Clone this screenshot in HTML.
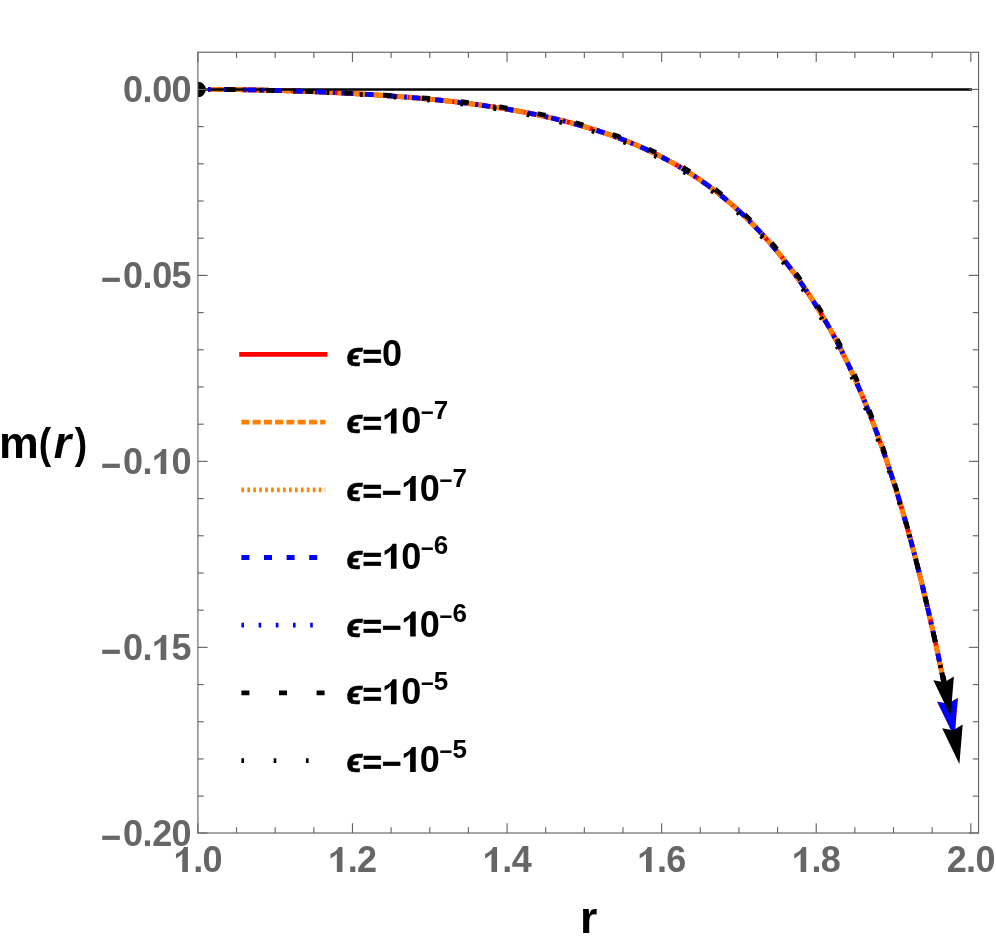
<!DOCTYPE html>
<html><head><meta charset="utf-8"><title>plot</title>
<style>
html,body{margin:0;padding:0;background:#fff;}
body{width:996px;height:943px;overflow:hidden;}
svg{display:block;will-change:transform;}
text{font-family:"Liberation Sans",sans-serif;font-weight:bold;}
.tk{font-size:34.5px;fill:#666666;}
.lg{font-size:35px;fill:#000;}
.sup{font-size:24.5px;}
.ax{font-size:44px;fill:#000;}
</style></head><body>
<svg width="996" height="943" viewBox="0 0 996 943">
<rect width="996" height="943" fill="#fff"/>
<defs><clipPath id="cp"><rect x="197.9" y="52.25" width="780.65" height="780.75"/></clipPath></defs>
<g clip-path="url(#cp)">
<g fill="none" stroke-width="4.8">
<path d="M208.00,89.40 L209.98,89.41 L211.96,89.42 L213.94,89.43 L215.92,89.44 L217.90,89.45 L219.88,89.47 L221.86,89.48 L223.84,89.50 L225.82,89.52 L227.80,89.54 L229.78,89.56 L231.76,89.58 L233.74,89.61 L235.72,89.64 L237.70,89.66 L239.68,89.69 L241.66,89.73 L243.64,89.76 L245.62,89.79 L247.60,89.83 L249.58,89.86 L251.56,89.90 L253.54,89.94 L255.52,89.98 L257.50,90.02 L259.48,90.06 L261.46,90.11 L263.44,90.15 L265.42,90.20 L267.40,90.25 L269.38,90.30 L271.36,90.35 L273.34,90.40 L275.32,90.46 L277.30,90.51 L279.28,90.57 L281.26,90.62 L283.24,90.68 L285.22,90.74 L287.20,90.80 L289.18,90.86 L291.16,90.93 L293.14,90.99 L295.12,91.06 L297.10,91.13 L299.08,91.19 L301.06,91.26 L303.04,91.34 L305.02,91.41 L307.00,91.48 L308.98,91.56 L310.96,91.63 L312.94,91.71 L314.92,91.79 L316.90,91.87 L318.88,91.95 L320.86,92.03 L322.84,92.12 L324.82,92.20 L326.80,92.29 L328.78,92.38 L330.76,92.47 L332.74,92.56 L334.72,92.65 L336.70,92.75 L338.68,92.84 L340.66,92.94 L342.64,93.04 L344.62,93.14 L346.60,93.24 L348.58,93.34 L350.56,93.45 L352.54,93.55 L354.52,93.66 L356.49,93.77 L358.47,93.88 L360.45,93.99 L362.43,94.11 L364.41,94.22 L366.39,94.34 L368.37,94.46 L370.35,94.58 L372.33,94.70 L374.31,94.83 L376.29,94.95 L378.27,95.08 L380.25,95.21 L382.23,95.34 L384.21,95.48 L386.19,95.61 L388.17,95.75 L390.15,95.89 L392.13,96.04 L394.11,96.18 L396.09,96.33 L398.07,96.47 L400.05,96.62 L402.03,96.78 L404.01,96.93 L405.99,97.09 L407.97,97.25 L409.95,97.41 L411.93,97.58 L413.91,97.74 L415.89,97.91 L417.87,98.09 L419.85,98.26 L421.83,98.44 L423.81,98.62 L425.79,98.80 L427.77,98.98 L429.75,99.17 L431.73,99.36 L433.71,99.56 L435.69,99.75 L437.67,99.95 L439.65,100.15 L441.63,100.36 L443.61,100.57 L445.59,100.78 L447.57,100.99 L449.55,101.21 L451.53,101.43 L453.51,101.65 L455.49,101.88 L457.47,102.11 L459.45,102.35 L461.43,102.58 L463.41,102.82 L465.39,103.07 L467.37,103.32 L469.35,103.57 L471.33,103.82 L473.31,104.08 L475.29,104.35 L477.27,104.61 L479.25,104.89 L481.23,105.16 L483.21,105.44 L485.19,105.72 L487.17,106.01 L489.15,106.30 L491.13,106.60 L493.11,106.90 L495.09,107.20 L497.07,107.51 L499.05,107.83 L501.03,108.14 L503.01,108.47 L504.99,108.79 L506.97,109.13 L508.95,109.46 L510.93,109.81 L512.91,110.15 L514.89,110.51 L516.87,110.86 L518.85,111.23 L520.83,111.59 L522.81,111.97 L524.79,112.34 L526.77,112.73 L528.75,113.12 L530.73,113.51 L532.71,113.91 L534.69,114.32 L536.67,114.73 L538.65,115.15 L540.63,115.57 L542.61,116.00 L544.59,116.44 L546.57,116.88 L548.55,117.33 L550.53,117.78 L552.51,118.24 L554.49,118.71 L556.47,119.19 L558.45,119.67 L560.43,120.15 L562.41,120.65 L564.39,121.15 L566.37,121.66 L568.35,122.17 L570.33,122.69 L572.31,123.22 L574.29,123.76 L576.27,124.31 L578.25,124.86 L580.23,125.42 L582.21,125.98 L584.19,126.56 L586.17,127.14 L588.15,127.74 L590.13,128.34 L592.11,128.95 L594.09,129.56 L596.07,130.19 L598.05,130.82 L600.03,131.47 L602.01,132.12 L603.99,132.78 L605.97,133.46 L607.95,134.14 L609.93,134.83 L611.91,135.53 L613.89,136.24 L615.87,136.96 L617.85,137.70 L619.83,138.44 L621.81,139.19 L623.79,139.96 L625.77,140.73 L627.75,141.52 L629.73,142.32 L631.71,143.13 L633.69,143.95 L635.67,144.79 L637.65,145.63 L639.63,146.49 L641.61,147.37 L643.59,148.25 L645.57,149.15 L647.55,150.06 L649.53,150.98 L651.51,151.92 L653.48,152.88 L655.46,153.84 L657.44,154.82 L659.42,155.82 L661.40,156.83 L663.38,157.86 L665.36,158.90 L667.34,159.95 L669.32,161.03 L671.30,162.12 L673.28,163.22 L675.26,164.34 L677.24,165.48 L679.22,166.64 L681.20,167.81 L683.18,169.00 L685.16,170.21 L687.14,171.43 L689.12,172.68 L691.10,173.94 L693.08,175.22 L695.06,176.53 L697.04,177.85 L699.02,179.19 L701.00,180.55 L702.98,181.93 L704.96,183.33 L706.94,184.76 L708.92,186.20 L710.90,187.67 L712.88,189.16 L714.86,190.67 L716.84,192.20 L718.82,193.75 L720.80,195.33 L722.78,196.93 L724.76,198.56 L726.74,200.21 L728.72,201.88 L730.70,203.58 L732.68,205.31 L734.66,207.06 L736.64,208.83 L738.62,210.63 L740.60,212.46 L742.58,214.32 L744.56,216.20 L746.54,218.11 L748.52,220.04 L750.50,222.01 L752.48,224.00 L754.46,226.03 L756.44,228.08 L758.42,230.16 L760.40,232.27 L762.38,234.41 L764.36,236.59 L766.34,238.79 L768.32,241.03 L770.30,243.30 L772.28,245.60 L774.26,247.93 L776.24,250.29 L778.22,252.69 L780.20,255.13 L782.18,257.59 L784.16,260.10 L786.14,262.63 L788.12,265.21 L790.10,267.82 L792.08,270.46 L794.06,273.14 L796.04,275.86 L798.02,278.62 L800.00,281.42 L800.30,281.84 L800.59,282.26 L800.89,282.69 L801.19,283.11 L801.48,283.54 L801.78,283.97 L802.08,284.39 L802.38,284.82 L802.67,285.25 L802.97,285.68 L803.27,286.11 L803.56,286.55 L803.86,286.98 L804.16,287.41 L804.45,287.85 L804.75,288.28 L805.05,288.72 L805.35,289.16 L805.64,289.60 L805.94,290.04 L806.24,290.48 L806.53,290.92 L806.83,291.36 L807.13,291.80 L807.42,292.25 L807.72,292.69 L808.02,293.14 L808.32,293.58 L808.61,294.03 L808.91,294.48 L809.21,294.93 L809.50,295.38 L809.80,295.83 L810.10,296.28 L810.39,296.74 L810.69,297.19 L810.99,297.65 L811.29,298.10 L811.58,298.56 L811.88,299.02 L812.18,299.48 L812.47,299.93 L812.77,300.40 L813.07,300.86 L813.36,301.32 L813.66,301.78 L813.96,302.25 L814.26,302.71 L814.55,303.18 L814.85,303.65 L815.15,304.12 L815.44,304.59 L815.74,305.06 L816.04,305.53 L816.33,306.00 L816.63,306.48 L816.93,306.95 L817.23,307.43 L817.52,307.90 L817.82,308.38 L818.12,308.86 L818.41,309.34 L818.71,309.82 L819.01,310.31 L819.30,310.79 L819.60,311.27 L819.90,311.76 L820.20,312.25 L820.49,312.73 L820.79,313.22 L821.09,313.71 L821.38,314.21 L821.68,314.70 L821.98,315.19 L822.27,315.69 L822.57,316.18 L822.87,316.68 L823.17,317.18 L823.46,317.68 L823.76,318.18 L824.06,318.68 L824.35,319.18 L824.65,319.69 L824.95,320.19 L825.24,320.70 L825.54,321.21 L825.84,321.72 L826.14,322.23 L826.43,322.74 L826.73,323.25 L827.03,323.77 L827.32,324.28 L827.62,324.80 L827.92,325.32 L828.21,325.84 L828.51,326.36 L828.81,326.88 L829.11,327.40 L829.40,327.93 L829.70,328.46 L830.00,328.98 L830.29,329.51 L830.59,330.04 L830.89,330.58 L831.18,331.11 L831.48,331.64 L831.78,332.18 L832.08,332.72 L832.37,333.26 L832.67,333.80 L832.97,334.34 L833.26,334.88 L833.56,335.43 L833.86,335.97 L834.15,336.52 L834.45,337.07 L834.75,337.62 L835.05,338.17 L835.34,338.73 L835.64,339.28 L835.94,339.84 L836.23,340.40 L836.53,340.96 L836.83,341.52 L837.12,342.08 L837.42,342.65 L837.72,343.21 L838.02,343.78 L838.31,344.35 L838.61,344.92 L838.91,345.49 L839.20,346.07 L839.50,346.64 L839.80,347.22 L840.09,347.80 L840.39,348.38 L840.69,348.96 L840.99,349.55 L841.28,350.13 L841.58,350.72 L841.88,351.31 L842.17,351.90 L842.47,352.49 L842.77,353.08 L843.06,353.68 L843.36,354.27 L843.66,354.87 L843.96,355.47 L844.25,356.07 L844.55,356.68 L844.85,357.28 L845.14,357.89 L845.44,358.50 L845.74,359.11 L846.03,359.72 L846.33,360.33 L846.63,360.95 L846.93,361.56 L847.22,362.18 L847.52,362.80 L847.82,363.43 L848.11,364.05 L848.41,364.67 L848.71,365.30 L849.00,365.93 L849.30,366.56 L849.60,367.19 L849.89,367.83 L850.19,368.46 L850.49,369.10 L850.79,369.74 L851.08,370.38 L851.38,371.03 L851.68,371.67 L851.97,372.32 L852.27,372.97 L852.57,373.62 L852.86,374.27 L853.16,374.92 L853.46,375.58 L853.76,376.23 L854.05,376.89 L854.35,377.55 L854.65,378.22 L854.94,378.88 L855.24,379.55 L855.54,380.21 L855.83,380.88 L856.13,381.55 L856.43,382.23 L856.73,382.90 L857.02,383.58 L857.32,384.26 L857.62,384.94 L857.91,385.62 L858.21,386.31 L858.51,386.99 L858.80,387.68 L859.10,388.37 L859.40,389.06 L859.70,389.75 L859.99,390.45 L860.29,391.14 L860.59,391.84 L860.88,392.54 L861.18,393.25 L861.48,393.95 L861.77,394.65 L862.07,395.36 L862.37,396.07 L862.67,396.78 L862.96,397.50 L863.26,398.21 L863.56,398.93 L863.85,399.65 L864.15,400.37 L864.45,401.09 L864.74,401.81 L865.04,402.54 L865.34,403.27 L865.64,404.00 L865.93,404.73 L866.23,405.46 L866.53,406.20 L866.82,406.94 L867.12,407.68 L867.42,408.42 L867.71,409.16 L868.01,409.90 L868.31,410.65 L868.61,411.40 L868.90,412.15 L869.20,412.90 L869.50,413.66 L869.79,414.41 L870.09,415.17 L870.39,415.93 L870.68,416.69 L870.98,417.46 L871.28,418.22 L871.58,418.99 L871.87,419.76 L872.17,420.53 L872.47,421.31 L872.76,422.08 L873.06,422.86 L873.36,423.64 L873.65,424.42 L873.95,425.21 L874.25,425.99 L874.55,426.78 L874.84,427.57 L875.14,428.36 L875.44,429.16 L875.73,429.95 L876.03,430.75 L876.33,431.55 L876.62,432.35 L876.92,433.16 L877.22,433.96 L877.52,434.77 L877.81,435.58 L878.11,436.39 L878.41,437.21 L878.70,438.03 L879.00,438.84 L879.30,439.67 L879.59,440.49 L879.89,441.31 L880.19,442.14 L880.49,442.97 L880.78,443.80 L881.08,444.64 L881.38,445.47 L881.67,446.31 L881.97,447.15 L882.27,447.99 L882.56,448.84 L882.86,449.69 L883.16,450.53 L883.46,451.39 L883.75,452.24 L884.05,453.10 L884.35,453.95 L884.64,454.81 L884.94,455.68 L885.24,456.54 L885.53,457.41 L885.83,458.28 L886.13,459.15 L886.43,460.03 L886.72,460.90 L887.02,461.78 L887.32,462.66 L887.61,463.55 L887.91,464.43 L888.21,465.32 L888.50,466.21 L888.80,467.11 L889.10,468.00 L889.40,468.90 L889.69,469.80 L889.99,470.70 L890.29,471.61 L890.58,472.52 L890.88,473.43 L891.18,474.34 L891.47,475.25 L891.77,476.17 L892.07,477.09 L892.37,478.02 L892.66,478.94 L892.96,479.87 L893.26,480.80 L893.55,481.73 L893.85,482.67 L894.15,483.61 L894.44,484.55 L894.74,485.49 L895.04,486.43 L895.34,487.38 L895.63,488.33 L895.93,489.29 L896.23,490.24 L896.52,491.20 L896.82,492.16 L897.12,493.13 L897.41,494.10 L897.71,495.07 L898.01,496.04 L898.31,497.01 L898.60,497.99 L898.90,498.97 L899.20,499.95 L899.49,500.94 L899.79,501.93 L900.09,502.92 L900.38,503.91 L900.68,504.91 L900.98,505.91 L901.27,506.91 L901.57,507.92 L901.87,508.93 L902.17,509.94 L902.46,510.95 L902.76,511.97 L903.06,512.99 L903.35,514.01 L903.65,515.03 L903.95,516.06 L904.24,517.09 L904.54,518.13 L904.84,519.16 L905.14,520.20 L905.43,521.25 L905.73,522.29 L906.03,523.34 L906.32,524.39 L906.62,525.45 L906.92,526.50 L907.21,527.56 L907.51,528.63 L907.81,529.69 L908.11,530.76 L908.40,531.83 L908.70,532.91 L909.00,533.99 L909.29,535.07 L909.59,536.15 L909.89,537.24 L910.18,538.33 L910.48,539.42 L910.78,540.52 L911.08,541.62 L911.37,542.72 L911.67,543.83 L911.97,544.94 L912.26,546.05 L912.56,547.16 L912.86,548.28 L913.15,549.40 L913.45,550.53 L913.75,551.65 L914.05,552.78 L914.34,553.92 L914.64,555.05 L914.94,556.19 L915.23,557.34 L915.53,558.48 L915.83,559.63 L916.12,560.78 L916.42,561.94 L916.72,563.10 L917.02,564.26 L917.31,565.42 L917.61,566.59 L917.91,567.76 L918.20,568.94 L918.50,570.11 L918.80,571.29 L919.09,572.48 L919.39,573.67 L919.69,574.86 L919.99,576.05 L920.28,577.25 L920.58,578.45 L920.88,579.65 L921.17,580.86 L921.47,582.07 L921.77,583.28 L922.06,584.49 L922.36,585.71 L922.66,586.94 L922.96,588.16 L923.25,589.39 L923.55,590.62 L923.85,591.86 L924.14,593.10 L924.44,594.34 L924.74,595.59 L925.03,596.83 L925.33,598.09 L925.63,599.34 L925.93,600.60 L926.22,601.86 L926.52,603.13 L926.82,604.39 L927.11,605.67 L927.41,606.94 L927.71,608.22 L928.00,609.50 L928.30,610.78 L928.60,612.07 L928.90,613.36 L929.19,614.66 L929.49,615.96 L929.79,617.26 L930.08,618.56 L930.38,619.87 L930.68,621.18 L930.97,622.49 L931.27,623.81 L931.57,625.13 L931.87,626.46 L932.16,627.78 L932.46,629.11 L932.76,630.45 L933.05,631.79 L933.35,633.13 L933.65,634.47 L933.94,635.82 L934.24,637.17 L934.54,638.52 L934.84,639.88 L935.13,641.24 L935.43,642.60 L935.73,643.97 L936.02,645.34 L936.32,646.71 L936.62,648.09 L936.91,649.47 L937.21,650.85 L937.51,652.24 L937.81,653.63 L938.10,655.02 L938.40,656.42 L938.70,657.82 L938.99,659.22 L939.29,660.63 L939.59,662.04 L939.88,663.45 L940.18,664.86 L940.48,666.28 L940.78,667.71 L941.07,669.13 L941.37,670.56 L941.67,671.99 L941.96,673.43 L942.26,674.87 L942.56,676.31 L942.85,677.76 L943.15,679.20 L943.45,680.66 L943.75,682.11 L944.04,683.57 L944.34,685.03 L944.64,686.50 L944.93,687.96 L945.23,689.43 L945.53,690.91 L945.82,692.39 L946.12,693.87 L946.42,695.35 L946.72,696.84 L947.01,698.33 L947.31,699.82 L947.61,701.32 L947.90,702.82 L948.20,704.32" stroke="#ff0000"/>
<path d="M211.00,89.41 L212.97,89.42 L214.94,89.43 L216.91,89.44 L218.88,89.46 L220.85,89.47 L222.82,89.49 L224.79,89.51 L226.76,89.53 L228.73,89.55 L230.70,89.57 L232.67,89.60 L234.64,89.62 L236.61,89.65 L238.58,89.68 L240.55,89.71 L242.52,89.74 L244.49,89.77 L246.46,89.81 L248.43,89.84 L250.40,89.88 L252.37,89.92 L254.34,89.96 L256.31,90.00 L258.28,90.04 L260.25,90.08 L262.22,90.13 L264.19,90.17 L266.16,90.22 L268.13,90.27 L270.10,90.32 L272.07,90.37 L274.04,90.42 L276.01,90.47 L277.98,90.53 L279.95,90.59 L281.92,90.64 L283.89,90.70 L285.86,90.76 L287.83,90.82 L289.80,90.88 L291.77,90.95 L293.74,91.01 L295.71,91.08 L297.68,91.15 L299.65,91.21 L301.62,91.28 L303.59,91.36 L305.56,91.43 L307.53,91.50 L309.49,91.58 L311.46,91.65 L313.43,91.73 L315.40,91.81 L317.37,91.89 L319.34,91.97 L321.31,92.05 L323.28,92.14 L325.25,92.22 L327.22,92.31 L329.19,92.40 L331.16,92.49 L333.13,92.58 L335.10,92.67 L337.07,92.76 L339.04,92.86 L341.01,92.96 L342.98,93.05 L344.95,93.15 L346.92,93.25 L348.89,93.36 L350.86,93.46 L352.83,93.57 L354.80,93.67 L356.77,93.78 L358.74,93.89 L360.71,94.01 L362.68,94.12 L364.65,94.24 L366.62,94.35 L368.59,94.47 L370.56,94.59 L372.53,94.71 L374.50,94.84 L376.47,94.97 L378.44,95.09 L380.41,95.22 L382.38,95.35 L384.35,95.49 L386.32,95.62 L388.29,95.76 L390.26,95.90 L392.23,96.04 L394.20,96.19 L396.17,96.33 L398.14,96.48 L400.11,96.63 L402.08,96.78 L404.05,96.94 L406.02,97.09 L407.99,97.25 L409.96,97.41 L411.93,97.58 L413.90,97.74 L415.87,97.91 L417.84,98.08 L419.81,98.26 L421.78,98.43 L423.75,98.61 L425.72,98.79 L427.69,98.98 L429.66,99.16 L431.63,99.35 L433.60,99.54 L435.57,99.74 L437.54,99.94 L439.51,100.14 L441.48,100.34 L443.45,100.55 L445.42,100.76 L447.39,100.97 L449.36,101.19 L451.33,101.41 L453.30,101.63 L455.27,101.85 L457.24,102.08 L459.21,102.32 L461.18,102.55 L463.15,102.79 L465.12,103.03 L467.09,103.28 L469.06,103.53 L471.03,103.79 L473.00,104.04 L474.97,104.30 L476.94,104.57 L478.91,104.84 L480.88,105.11 L482.85,105.39 L484.82,105.67 L486.79,105.95 L488.76,106.24 L490.73,106.54 L492.70,106.84 L494.67,107.14 L496.64,107.44 L498.61,107.76 L500.58,108.07 L502.55,108.39 L504.52,108.72 L506.48,109.05 L508.45,109.38 L510.42,109.72 L512.39,110.06 L514.36,110.41 L516.33,110.77 L518.30,111.13 L520.27,111.49 L522.24,111.86 L524.21,112.23 L526.18,112.61 L528.15,113.00 L530.12,113.39 L532.09,113.79 L534.06,114.19 L536.03,114.60 L538.00,115.01 L539.97,115.43 L541.94,115.86 L543.91,116.29 L545.88,116.73 L547.85,117.17 L549.82,117.62 L551.79,118.08 L553.76,118.54 L555.73,119.01 L557.70,119.48 L559.67,119.97 L561.64,120.46 L563.61,120.95 L565.58,121.45 L567.55,121.96 L569.52,122.48 L571.49,123.00 L573.46,123.54 L575.43,124.07 L577.40,124.62 L579.37,125.17 L581.34,125.74 L583.31,126.30 L585.28,126.88 L587.25,127.47 L589.22,128.06 L591.19,128.66 L593.16,129.27 L595.13,129.89 L597.10,130.52 L599.07,131.16 L601.04,131.80 L603.01,132.46 L604.98,133.12 L606.95,133.79 L608.92,134.48 L610.89,135.17 L612.86,135.87 L614.83,136.59 L616.80,137.31 L618.77,138.04 L620.74,138.79 L622.71,139.54 L624.68,140.31 L626.65,141.08 L628.62,141.87 L630.59,142.67 L632.56,143.48 L634.53,144.31 L636.50,145.14 L638.47,145.99 L640.44,146.85 L642.41,147.72 L644.38,148.61 L646.35,149.51 L648.32,150.42 L650.29,151.34 L652.26,152.28 L654.23,153.24 L656.20,154.20 L658.17,155.19 L660.14,156.18 L662.11,157.19 L664.08,158.22 L666.05,159.26 L668.02,160.32 L669.99,161.39 L671.96,162.48 L673.93,163.58 L675.90,164.70 L677.87,165.84 L679.84,167.00 L681.81,168.17 L683.78,169.36 L685.75,170.57 L687.72,171.79 L689.69,173.04 L691.66,174.30 L693.63,175.58 L695.60,176.88 L697.57,178.20 L699.54,179.54 L701.51,180.90 L703.47,182.28 L705.44,183.68 L707.41,185.10 L709.38,186.54 L711.35,188.00 L713.32,189.49 L715.29,191.00 L717.26,192.53 L719.23,194.08 L721.20,195.65 L723.17,197.25 L725.14,198.88 L727.11,200.52 L729.08,202.19 L731.05,203.89 L733.02,205.61 L734.99,207.35 L736.96,209.12 L738.93,210.92 L740.90,212.74 L742.87,214.59 L744.84,216.47 L746.81,218.37 L748.78,220.30 L750.75,222.26 L752.72,224.25 L754.69,226.26 L756.66,228.31 L758.63,230.38 L760.60,232.49 L762.57,234.62 L764.54,236.79 L766.51,238.98 L768.48,241.21 L770.45,243.47 L772.42,245.76 L774.39,248.08 L776.36,250.44 L778.33,252.83 L780.30,255.25 L782.27,257.71 L784.24,260.20 L786.21,262.73 L788.18,265.29 L790.15,267.88 L792.12,270.52 L794.09,273.19 L796.06,275.89 L798.03,278.64 L800.00,281.42 L800.30,281.84 L800.59,282.26 L800.89,282.69 L801.19,283.11 L801.48,283.54 L801.78,283.97 L802.08,284.39 L802.38,284.82 L802.67,285.25 L802.97,285.68 L803.27,286.11 L803.56,286.55 L803.86,286.98 L804.16,287.41 L804.45,287.85 L804.75,288.28 L805.05,288.72 L805.35,289.16 L805.64,289.60 L805.94,290.04 L806.24,290.48 L806.53,290.92 L806.83,291.36 L807.13,291.80 L807.42,292.25 L807.72,292.69 L808.02,293.14 L808.32,293.58 L808.61,294.03 L808.91,294.48 L809.21,294.93 L809.50,295.38 L809.80,295.83 L810.10,296.28 L810.39,296.74 L810.69,297.19 L810.99,297.65 L811.29,298.10 L811.58,298.56 L811.88,299.02 L812.18,299.48 L812.47,299.93 L812.77,300.40 L813.07,300.86 L813.36,301.32 L813.66,301.78 L813.96,302.25 L814.26,302.71 L814.55,303.18 L814.85,303.65 L815.15,304.12 L815.44,304.59 L815.74,305.06 L816.04,305.53 L816.33,306.00 L816.63,306.48 L816.93,306.95 L817.23,307.43 L817.52,307.90 L817.82,308.38 L818.12,308.86 L818.41,309.34 L818.71,309.82 L819.01,310.31 L819.30,310.79 L819.60,311.27 L819.90,311.76 L820.20,312.25 L820.49,312.73 L820.79,313.22 L821.09,313.71 L821.38,314.21 L821.68,314.70 L821.98,315.19 L822.27,315.69 L822.57,316.18 L822.87,316.68 L823.17,317.18 L823.46,317.68 L823.76,318.18 L824.06,318.68 L824.35,319.18 L824.65,319.69 L824.95,320.19 L825.24,320.70 L825.54,321.21 L825.84,321.72 L826.14,322.23 L826.43,322.74 L826.73,323.25 L827.03,323.77 L827.32,324.28 L827.62,324.80 L827.92,325.32 L828.21,325.84 L828.51,326.36 L828.81,326.88 L829.11,327.40 L829.40,327.93 L829.70,328.46 L830.00,328.98 L830.29,329.51 L830.59,330.04 L830.89,330.58 L831.18,331.11 L831.48,331.64 L831.78,332.18 L832.08,332.72 L832.37,333.26 L832.67,333.80 L832.97,334.34 L833.26,334.88 L833.56,335.43 L833.86,335.97 L834.15,336.52 L834.45,337.07 L834.75,337.62 L835.05,338.17 L835.34,338.73 L835.64,339.28 L835.94,339.84 L836.23,340.40 L836.53,340.96 L836.83,341.52 L837.12,342.08 L837.42,342.65 L837.72,343.21 L838.02,343.78 L838.31,344.35 L838.61,344.92 L838.91,345.49 L839.20,346.07 L839.50,346.64 L839.80,347.22 L840.09,347.80 L840.39,348.38 L840.69,348.96 L840.99,349.55 L841.28,350.13 L841.58,350.72 L841.88,351.31 L842.17,351.90 L842.47,352.49 L842.77,353.08 L843.06,353.68 L843.36,354.27 L843.66,354.87 L843.96,355.47 L844.25,356.07 L844.55,356.68 L844.85,357.28 L845.14,357.89 L845.44,358.50 L845.74,359.11 L846.03,359.72 L846.33,360.33 L846.63,360.95 L846.93,361.56 L847.22,362.18 L847.52,362.80 L847.82,363.43 L848.11,364.05 L848.41,364.67 L848.71,365.30 L849.00,365.93 L849.30,366.56 L849.60,367.19 L849.89,367.83 L850.19,368.46 L850.49,369.10 L850.79,369.74 L851.08,370.38 L851.38,371.03 L851.68,371.67 L851.97,372.32 L852.27,372.97 L852.57,373.62 L852.86,374.27 L853.16,374.92 L853.46,375.58 L853.76,376.23 L854.05,376.89 L854.35,377.55 L854.65,378.22 L854.94,378.88 L855.24,379.55 L855.54,380.21 L855.83,380.88 L856.13,381.55 L856.43,382.23 L856.73,382.90 L857.02,383.58 L857.32,384.26 L857.62,384.94 L857.91,385.62 L858.21,386.31 L858.51,386.99 L858.80,387.68 L859.10,388.37 L859.40,389.06 L859.70,389.75 L859.99,390.45 L860.29,391.14 L860.59,391.84 L860.88,392.54 L861.18,393.25 L861.48,393.95 L861.77,394.65 L862.07,395.36 L862.37,396.07 L862.67,396.78 L862.96,397.50 L863.26,398.21 L863.56,398.93 L863.85,399.65 L864.15,400.37 L864.45,401.09 L864.74,401.81 L865.04,402.54 L865.34,403.27 L865.64,404.00 L865.93,404.73 L866.23,405.46 L866.53,406.20 L866.82,406.94 L867.12,407.68 L867.42,408.42 L867.71,409.16 L868.01,409.90 L868.31,410.65 L868.61,411.40 L868.90,412.15 L869.20,412.90 L869.50,413.66 L869.79,414.41 L870.09,415.17 L870.39,415.93 L870.68,416.69 L870.98,417.46 L871.28,418.22 L871.58,418.99 L871.87,419.76 L872.17,420.53 L872.47,421.31 L872.76,422.08 L873.06,422.86 L873.36,423.64 L873.65,424.42 L873.95,425.21 L874.25,425.99 L874.55,426.78 L874.84,427.57 L875.14,428.36 L875.44,429.16 L875.73,429.95 L876.03,430.75 L876.33,431.55 L876.62,432.35 L876.92,433.16 L877.22,433.96 L877.52,434.77 L877.81,435.58 L878.11,436.39 L878.41,437.21 L878.70,438.03 L879.00,438.84 L879.30,439.67 L879.59,440.49 L879.89,441.31 L880.19,442.14 L880.49,442.97 L880.78,443.80 L881.08,444.64 L881.38,445.47 L881.67,446.31 L881.97,447.15 L882.27,447.99 L882.56,448.84 L882.86,449.69 L883.16,450.53 L883.46,451.39 L883.75,452.24 L884.05,453.10 L884.35,453.95 L884.64,454.81 L884.94,455.68 L885.24,456.54 L885.53,457.41 L885.83,458.28 L886.13,459.15 L886.43,460.03 L886.72,460.90 L887.02,461.78 L887.32,462.66 L887.61,463.55 L887.91,464.43 L888.21,465.32 L888.50,466.21 L888.80,467.11 L889.10,468.00 L889.40,468.90 L889.69,469.80 L889.99,470.70 L890.29,471.61 L890.58,472.52 L890.88,473.43 L891.18,474.34 L891.47,475.25 L891.77,476.17 L892.07,477.09 L892.37,478.02 L892.66,478.94 L892.96,479.87 L893.26,480.80 L893.55,481.73 L893.85,482.67 L894.15,483.61 L894.44,484.55 L894.74,485.49 L895.04,486.43 L895.34,487.38 L895.63,488.33 L895.93,489.29 L896.23,490.24 L896.52,491.20 L896.82,492.16 L897.12,493.13 L897.41,494.10 L897.71,495.07 L898.01,496.04 L898.31,497.01 L898.60,497.99 L898.90,498.97 L899.20,499.95 L899.49,500.94 L899.79,501.93 L900.09,502.92 L900.38,503.91 L900.68,504.91 L900.98,505.91 L901.27,506.91 L901.57,507.92 L901.87,508.93 L902.17,509.94 L902.46,510.95 L902.76,511.97 L903.06,512.99 L903.35,514.01 L903.65,515.03 L903.95,516.06 L904.24,517.09 L904.54,518.13 L904.84,519.16 L905.14,520.20 L905.43,521.25 L905.73,522.29 L906.03,523.34 L906.32,524.39 L906.62,525.45 L906.92,526.50 L907.21,527.56 L907.51,528.63 L907.81,529.69 L908.11,530.76 L908.40,531.83 L908.70,532.91 L909.00,533.99 L909.29,535.07 L909.59,536.15 L909.89,537.24 L910.18,538.33 L910.48,539.42 L910.78,540.52 L911.08,541.62 L911.37,542.72 L911.67,543.83 L911.97,544.94 L912.26,546.05 L912.56,547.16 L912.86,548.28 L913.15,549.40 L913.45,550.53 L913.75,551.65 L914.05,552.78 L914.34,553.92 L914.64,555.05 L914.94,556.19 L915.23,557.34 L915.53,558.48 L915.83,559.63 L916.12,560.78 L916.42,561.94 L916.72,563.10 L917.02,564.26 L917.31,565.42 L917.61,566.59 L917.91,567.76 L918.20,568.94 L918.50,570.11 L918.80,571.29 L919.09,572.48 L919.39,573.67 L919.69,574.86 L919.99,576.05 L920.28,577.25 L920.58,578.45 L920.88,579.65 L921.17,580.86 L921.47,582.07 L921.77,583.28 L922.06,584.49 L922.36,585.71 L922.66,586.94 L922.96,588.16 L923.25,589.39 L923.55,590.62 L923.85,591.86 L924.14,593.10 L924.44,594.34 L924.74,595.59 L925.03,596.83 L925.33,598.09 L925.63,599.34 L925.93,600.60 L926.22,601.86 L926.52,603.13 L926.82,604.39 L927.11,605.67 L927.41,606.94 L927.71,608.22 L928.00,609.50 L928.30,610.78 L928.60,612.07 L928.90,613.36 L929.19,614.66 L929.49,615.96 L929.79,617.26 L930.08,618.56 L930.38,619.87 L930.68,621.18 L930.97,622.49 L931.27,623.81 L931.57,625.13 L931.87,626.46 L932.16,627.78 L932.46,629.11 L932.76,630.45 L933.05,631.79 L933.35,633.13 L933.65,634.47 L933.94,635.82 L934.24,637.17 L934.54,638.52 L934.84,639.88 L935.13,641.24 L935.43,642.60 L935.73,643.97 L936.02,645.34 L936.32,646.71 L936.62,648.09 L936.91,649.47 L937.21,650.85 L937.51,652.24 L937.81,653.63 L938.10,655.02 L938.40,656.42 L938.70,657.82 L938.99,659.22 L939.29,660.63 L939.59,662.04 L939.88,663.45 L940.18,664.86 L940.48,666.28 L940.78,667.71 L941.07,669.13 L941.37,670.56 L941.67,671.99 L941.96,673.43 L942.26,674.87 L942.56,676.31 L942.85,677.76 L943.15,679.20 L943.45,680.66 L943.75,682.11 L944.04,683.57 L944.34,685.03 L944.64,686.50 L944.93,687.96 L945.23,689.43 L945.53,690.91 L945.82,692.39 L946.12,693.87 L946.42,695.35 L946.72,696.84 L947.01,698.33 L947.31,699.82 L947.61,701.32 L947.90,702.82 L948.20,704.32" stroke="#ff8000" stroke-dasharray="8.3 3.37"/>
<path d="M208.00,89.40 L209.98,89.41 L211.96,89.42 L213.94,89.43 L215.92,89.44 L217.90,89.45 L219.88,89.47 L221.86,89.48 L223.84,89.50 L225.82,89.52 L227.80,89.54 L229.78,89.56 L231.76,89.58 L233.74,89.61 L235.72,89.64 L237.70,89.66 L239.68,89.69 L241.66,89.73 L243.64,89.76 L245.62,89.79 L247.60,89.83 L249.58,89.86 L251.56,89.90 L253.54,89.94 L255.52,89.98 L257.50,90.02 L259.48,90.06 L261.46,90.11 L263.44,90.15 L265.42,90.20 L267.40,90.25 L269.38,90.30 L271.36,90.35 L273.34,90.40 L275.32,90.46 L277.30,90.51 L279.28,90.57 L281.26,90.62 L283.24,90.68 L285.22,90.74 L287.20,90.80 L289.18,90.86 L291.16,90.93 L293.14,90.99 L295.12,91.06 L297.10,91.13 L299.08,91.19 L301.06,91.26 L303.04,91.34 L305.02,91.41 L307.00,91.48 L308.98,91.56 L310.96,91.63 L312.94,91.71 L314.92,91.79 L316.90,91.87 L318.88,91.95 L320.86,92.03 L322.84,92.12 L324.82,92.20 L326.80,92.29 L328.78,92.38 L330.76,92.47 L332.74,92.56 L334.72,92.65 L336.70,92.75 L338.68,92.84 L340.66,92.94 L342.64,93.04 L344.62,93.14 L346.60,93.24 L348.58,93.34 L350.56,93.45 L352.54,93.55 L354.52,93.66 L356.49,93.77 L358.47,93.88 L360.45,93.99 L362.43,94.11 L364.41,94.22 L366.39,94.34 L368.37,94.46 L370.35,94.58 L372.33,94.70 L374.31,94.83 L376.29,94.95 L378.27,95.08 L380.25,95.21 L382.23,95.34 L384.21,95.48 L386.19,95.61 L388.17,95.75 L390.15,95.89 L392.13,96.04 L394.11,96.18 L396.09,96.33 L398.07,96.47 L400.05,96.62 L402.03,96.78 L404.01,96.93 L405.99,97.09 L407.97,97.25 L409.95,97.41 L411.93,97.58 L413.91,97.74 L415.89,97.91 L417.87,98.09 L419.85,98.26 L421.83,98.44 L423.81,98.62 L425.79,98.80 L427.77,98.98 L429.75,99.17 L431.73,99.36 L433.71,99.56 L435.69,99.75 L437.67,99.95 L439.65,100.15 L441.63,100.36 L443.61,100.57 L445.59,100.78 L447.57,100.99 L449.55,101.21 L451.53,101.43 L453.51,101.65 L455.49,101.88 L457.47,102.11 L459.45,102.35 L461.43,102.58 L463.41,102.82 L465.39,103.07 L467.37,103.32 L469.35,103.57 L471.33,103.82 L473.31,104.08 L475.29,104.35 L477.27,104.61 L479.25,104.89 L481.23,105.16 L483.21,105.44 L485.19,105.72 L487.17,106.01 L489.15,106.30 L491.13,106.60 L493.11,106.90 L495.09,107.20 L497.07,107.51 L499.05,107.83 L501.03,108.14 L503.01,108.47 L504.99,108.79 L506.97,109.13 L508.95,109.46 L510.93,109.81 L512.91,110.15 L514.89,110.51 L516.87,110.86 L518.85,111.23 L520.83,111.59 L522.81,111.97 L524.79,112.34 L526.77,112.73 L528.75,113.12 L530.73,113.51 L532.71,113.91 L534.69,114.32 L536.67,114.73 L538.65,115.15 L540.63,115.57 L542.61,116.00 L544.59,116.44 L546.57,116.88 L548.55,117.33 L550.53,117.78 L552.51,118.24 L554.49,118.71 L556.47,119.19 L558.45,119.67 L560.43,120.15 L562.41,120.65 L564.39,121.15 L566.37,121.66 L568.35,122.17 L570.33,122.69 L572.31,123.22 L574.29,123.76 L576.27,124.31 L578.25,124.86 L580.23,125.42 L582.21,125.98 L584.19,126.56 L586.17,127.14 L588.15,127.74 L590.13,128.34 L592.11,128.95 L594.09,129.56 L596.07,130.19 L598.05,130.82 L600.03,131.47 L602.01,132.12 L603.99,132.78 L605.97,133.46 L607.95,134.14 L609.93,134.83 L611.91,135.53 L613.89,136.24 L615.87,136.96 L617.85,137.70 L619.83,138.44 L621.81,139.19 L623.79,139.96 L625.77,140.73 L627.75,141.52 L629.73,142.32 L631.71,143.13 L633.69,143.95 L635.67,144.79 L637.65,145.63 L639.63,146.49 L641.61,147.37 L643.59,148.25 L645.57,149.15 L647.55,150.06 L649.53,150.98 L651.51,151.92 L653.48,152.88 L655.46,153.84 L657.44,154.82 L659.42,155.82 L661.40,156.83 L663.38,157.86 L665.36,158.90 L667.34,159.95 L669.32,161.03 L671.30,162.12 L673.28,163.22 L675.26,164.34 L677.24,165.48 L679.22,166.64 L681.20,167.81 L683.18,169.00 L685.16,170.21 L687.14,171.43 L689.12,172.68 L691.10,173.94 L693.08,175.22 L695.06,176.53 L697.04,177.85 L699.02,179.19 L701.00,180.55 L702.98,181.93 L704.96,183.33 L706.94,184.76 L708.92,186.20 L710.90,187.67 L712.88,189.16 L714.86,190.67 L716.84,192.20 L718.82,193.75 L720.80,195.33 L722.78,196.93 L724.76,198.56 L726.74,200.21 L728.72,201.88 L730.70,203.58 L732.68,205.31 L734.66,207.06 L736.64,208.83 L738.62,210.63 L740.60,212.46 L742.58,214.32 L744.56,216.20 L746.54,218.11 L748.52,220.04 L750.50,222.01 L752.48,224.00 L754.46,226.03 L756.44,228.08 L758.42,230.16 L760.40,232.27 L762.38,234.41 L764.36,236.59 L766.34,238.79 L768.32,241.03 L770.30,243.30 L772.28,245.60 L774.26,247.93 L776.24,250.29 L778.22,252.69 L780.20,255.13 L782.18,257.59 L784.16,260.10 L786.14,262.63 L788.12,265.21 L790.10,267.82 L792.08,270.46 L794.06,273.14 L796.04,275.86 L798.02,278.62 L800.00,281.42 L800.30,281.84 L800.59,282.26 L800.89,282.69 L801.19,283.11 L801.48,283.54 L801.78,283.97 L802.08,284.39 L802.38,284.82 L802.67,285.25 L802.97,285.68 L803.27,286.11 L803.56,286.55 L803.86,286.98 L804.16,287.41 L804.45,287.85 L804.75,288.28 L805.05,288.72 L805.35,289.16 L805.64,289.60 L805.94,290.04 L806.24,290.48 L806.53,290.92 L806.83,291.36 L807.13,291.80 L807.42,292.25 L807.72,292.69 L808.02,293.14 L808.32,293.58 L808.61,294.03 L808.91,294.48 L809.21,294.93 L809.50,295.38 L809.80,295.83 L810.10,296.28 L810.39,296.74 L810.69,297.19 L810.99,297.65 L811.29,298.10 L811.58,298.56 L811.88,299.02 L812.18,299.48 L812.47,299.93 L812.77,300.40 L813.07,300.86 L813.36,301.32 L813.66,301.78 L813.96,302.25 L814.26,302.71 L814.55,303.18 L814.85,303.65 L815.15,304.12 L815.44,304.59 L815.74,305.06 L816.04,305.53 L816.33,306.00 L816.63,306.48 L816.93,306.95 L817.23,307.43 L817.52,307.90 L817.82,308.38 L818.12,308.86 L818.41,309.34 L818.71,309.82 L819.01,310.31 L819.30,310.79 L819.60,311.27 L819.90,311.76 L820.20,312.25 L820.49,312.73 L820.79,313.22 L821.09,313.71 L821.38,314.21 L821.68,314.70 L821.98,315.19 L822.27,315.69 L822.57,316.18 L822.87,316.68 L823.17,317.18 L823.46,317.68 L823.76,318.18 L824.06,318.68 L824.35,319.18 L824.65,319.69 L824.95,320.19 L825.24,320.70 L825.54,321.21 L825.84,321.72 L826.14,322.23 L826.43,322.74 L826.73,323.25 L827.03,323.77 L827.32,324.28 L827.62,324.80 L827.92,325.32 L828.21,325.84 L828.51,326.36 L828.81,326.88 L829.11,327.40 L829.40,327.93 L829.70,328.46 L830.00,328.98 L830.29,329.51 L830.59,330.04 L830.89,330.58 L831.18,331.11 L831.48,331.64 L831.78,332.18 L832.08,332.72 L832.37,333.26 L832.67,333.80 L832.97,334.34 L833.26,334.88 L833.56,335.43 L833.86,335.97 L834.15,336.52 L834.45,337.07 L834.75,337.62 L835.05,338.17 L835.34,338.73 L835.64,339.28 L835.94,339.84 L836.23,340.40 L836.53,340.96 L836.83,341.52 L837.12,342.08 L837.42,342.65 L837.72,343.21 L838.02,343.78 L838.31,344.35 L838.61,344.92 L838.91,345.49 L839.20,346.07 L839.50,346.64 L839.80,347.22 L840.09,347.80 L840.39,348.38 L840.69,348.96 L840.99,349.55 L841.28,350.13 L841.58,350.72 L841.88,351.31 L842.17,351.90 L842.47,352.49 L842.77,353.08 L843.06,353.68 L843.36,354.27 L843.66,354.87 L843.96,355.47 L844.25,356.07 L844.55,356.68 L844.85,357.28 L845.14,357.89 L845.44,358.50 L845.74,359.11 L846.03,359.72 L846.33,360.33 L846.63,360.95 L846.93,361.56 L847.22,362.18 L847.52,362.80 L847.82,363.43 L848.11,364.05 L848.41,364.67 L848.71,365.30 L849.00,365.93 L849.30,366.56 L849.60,367.19 L849.89,367.83 L850.19,368.46 L850.49,369.10 L850.79,369.74 L851.08,370.38 L851.38,371.03 L851.68,371.67 L851.97,372.32 L852.27,372.97 L852.57,373.62 L852.86,374.27 L853.16,374.92 L853.46,375.58 L853.76,376.23 L854.05,376.89 L854.35,377.55 L854.65,378.22 L854.94,378.88 L855.24,379.55 L855.54,380.21 L855.83,380.88 L856.13,381.55 L856.43,382.23 L856.73,382.90 L857.02,383.58 L857.32,384.26 L857.62,384.94 L857.91,385.62 L858.21,386.31 L858.51,386.99 L858.80,387.68 L859.10,388.37 L859.40,389.06 L859.70,389.75 L859.99,390.45 L860.29,391.14 L860.59,391.84 L860.88,392.54 L861.18,393.25 L861.48,393.95 L861.77,394.65 L862.07,395.36 L862.37,396.07 L862.67,396.78 L862.96,397.50 L863.26,398.21 L863.56,398.93 L863.85,399.65 L864.15,400.37 L864.45,401.09 L864.74,401.81 L865.04,402.54 L865.34,403.27 L865.64,404.00 L865.93,404.73 L866.23,405.46 L866.53,406.20 L866.82,406.94 L867.12,407.68 L867.42,408.42 L867.71,409.16 L868.01,409.90 L868.31,410.65 L868.61,411.40 L868.90,412.15 L869.20,412.90 L869.50,413.66 L869.79,414.41 L870.09,415.17 L870.39,415.93 L870.68,416.69 L870.98,417.46 L871.28,418.22 L871.58,418.99 L871.87,419.76 L872.17,420.53 L872.47,421.31 L872.76,422.08 L873.06,422.86 L873.36,423.64 L873.65,424.42 L873.95,425.21 L874.25,425.99 L874.55,426.78 L874.84,427.57 L875.14,428.36 L875.44,429.16 L875.73,429.95 L876.03,430.75 L876.33,431.55 L876.62,432.35 L876.92,433.16 L877.22,433.96 L877.52,434.77 L877.81,435.58 L878.11,436.39 L878.41,437.21 L878.70,438.03 L879.00,438.84 L879.30,439.67 L879.59,440.49 L879.89,441.31 L880.19,442.14 L880.49,442.97 L880.78,443.80 L881.08,444.64 L881.38,445.47 L881.67,446.31 L881.97,447.15 L882.27,447.99 L882.56,448.84 L882.86,449.69 L883.16,450.53 L883.46,451.39 L883.75,452.24 L884.05,453.10 L884.35,453.95 L884.64,454.81 L884.94,455.68 L885.24,456.54 L885.53,457.41 L885.83,458.28 L886.13,459.15 L886.43,460.03 L886.72,460.90 L887.02,461.78 L887.32,462.66 L887.61,463.55 L887.91,464.43 L888.21,465.32 L888.50,466.21 L888.80,467.11 L889.10,468.00 L889.40,468.90 L889.69,469.80 L889.99,470.70 L890.29,471.61 L890.58,472.52 L890.88,473.43 L891.18,474.34 L891.47,475.25 L891.77,476.17 L892.07,477.09 L892.37,478.02 L892.66,478.94 L892.96,479.87 L893.26,480.80 L893.55,481.73 L893.85,482.67 L894.15,483.61 L894.44,484.55 L894.74,485.49 L895.04,486.43 L895.34,487.38 L895.63,488.33 L895.93,489.29 L896.23,490.24 L896.52,491.20 L896.82,492.16 L897.12,493.13 L897.41,494.10 L897.71,495.07 L898.01,496.04 L898.31,497.01 L898.60,497.99 L898.90,498.97 L899.20,499.95 L899.49,500.94 L899.79,501.93 L900.09,502.92 L900.38,503.91 L900.68,504.91 L900.98,505.91 L901.27,506.91 L901.57,507.92 L901.87,508.93 L902.17,509.94 L902.46,510.95 L902.76,511.97 L903.06,512.99 L903.35,514.01 L903.65,515.03 L903.95,516.06 L904.24,517.09 L904.54,518.13 L904.84,519.16 L905.14,520.20 L905.43,521.25 L905.73,522.29 L906.03,523.34 L906.32,524.39 L906.62,525.45 L906.92,526.50 L907.21,527.56 L907.51,528.63 L907.81,529.69 L908.11,530.76 L908.40,531.83 L908.70,532.91 L909.00,533.99 L909.29,535.07 L909.59,536.15 L909.89,537.24 L910.18,538.33 L910.48,539.42 L910.78,540.52 L911.08,541.62 L911.37,542.72 L911.67,543.83 L911.97,544.94 L912.26,546.05 L912.56,547.16 L912.86,548.28 L913.15,549.40 L913.45,550.53 L913.75,551.65 L914.05,552.78 L914.34,553.92 L914.64,555.05 L914.94,556.19 L915.23,557.34 L915.53,558.48 L915.83,559.63 L916.12,560.78 L916.42,561.94 L916.72,563.10 L917.02,564.26 L917.31,565.42 L917.61,566.59 L917.91,567.76 L918.20,568.94 L918.50,570.11 L918.80,571.29 L919.09,572.48 L919.39,573.67 L919.69,574.86 L919.99,576.05 L920.28,577.25 L920.58,578.45 L920.88,579.65 L921.17,580.86 L921.47,582.07 L921.77,583.28 L922.06,584.49 L922.36,585.71 L922.66,586.94 L922.96,588.16 L923.25,589.39 L923.55,590.62 L923.85,591.86 L924.14,593.10 L924.44,594.34 L924.74,595.59 L925.03,596.83 L925.33,598.09 L925.63,599.34 L925.93,600.60 L926.22,601.86 L926.52,603.13 L926.82,604.39 L927.11,605.67 L927.41,606.94 L927.71,608.22 L928.00,609.50 L928.30,610.78 L928.60,612.07 L928.90,613.36 L929.19,614.66 L929.49,615.96 L929.79,617.26 L930.08,618.56 L930.38,619.87 L930.68,621.18 L930.97,622.49 L931.27,623.81 L931.57,625.13 L931.87,626.46 L932.16,627.78 L932.46,629.11 L932.76,630.45 L933.05,631.79 L933.35,633.13 L933.65,634.47 L933.94,635.82 L934.24,637.17 L934.54,638.52 L934.84,639.88 L935.13,641.24 L935.43,642.60 L935.73,643.97 L936.02,645.34 L936.32,646.71 L936.62,648.09 L936.91,649.47 L937.21,650.85 L937.51,652.24 L937.81,653.63 L938.10,655.02 L938.40,656.42 L938.70,657.82 L938.99,659.22 L939.29,660.63 L939.59,662.04 L939.88,663.45 L940.18,664.86 L940.48,666.28 L940.78,667.71 L941.07,669.13 L941.37,670.56 L941.67,671.99 L941.96,673.43 L942.26,674.87 L942.56,676.31 L942.85,677.76 L943.15,679.20 L943.45,680.66 L943.75,682.11 L944.04,683.57 L944.34,685.03 L944.64,686.50 L944.93,687.96 L945.23,689.43 L945.53,690.91 L945.82,692.39 L946.12,693.87 L946.42,695.35 L946.72,696.84 L947.01,698.33 L947.31,699.82 L947.61,701.32 L947.90,702.82 L948.20,704.32" stroke="#ff8000" stroke-dasharray="2.7 3.47"/>
</g>
<line x1="198" y1="89.43" x2="972" y2="89.43" stroke="#000" stroke-width="2.4"/>
<circle cx="198" cy="89.43" r="7.8" fill="#000"/>
<g fill="none" stroke-width="4.8">
<path d="M224.00,89.50 L225.93,89.52 L227.85,89.54 L229.78,89.56 L231.71,89.58 L233.63,89.61 L235.56,89.63 L237.48,89.66 L239.41,89.69 L241.34,89.72 L243.26,89.75 L245.19,89.78 L247.12,89.82 L249.04,89.85 L250.97,89.89 L252.90,89.93 L254.82,89.97 L256.75,90.01 L258.68,90.05 L260.60,90.09 L262.53,90.13 L264.45,90.18 L266.38,90.23 L268.31,90.27 L270.23,90.32 L272.16,90.37 L274.09,90.42 L276.01,90.47 L277.94,90.53 L279.87,90.58 L281.79,90.64 L283.72,90.70 L285.65,90.75 L287.57,90.81 L289.50,90.88 L291.42,90.94 L293.35,91.00 L295.28,91.06 L297.20,91.13 L299.13,91.20 L301.06,91.26 L302.98,91.33 L304.91,91.40 L306.84,91.48 L308.76,91.55 L310.69,91.62 L312.62,91.70 L314.54,91.77 L316.47,91.85 L318.39,91.93 L320.32,92.01 L322.25,92.09 L324.17,92.18 L326.10,92.26 L328.03,92.35 L329.95,92.43 L331.88,92.52 L333.81,92.61 L335.73,92.70 L337.66,92.79 L339.59,92.89 L341.51,92.98 L343.44,93.08 L345.36,93.17 L347.29,93.27 L349.22,93.37 L351.14,93.48 L353.07,93.58 L355.00,93.69 L356.92,93.79 L358.85,93.90 L360.78,94.01 L362.70,94.12 L364.63,94.23 L366.56,94.35 L368.48,94.47 L370.41,94.58 L372.33,94.70 L374.26,94.82 L376.19,94.95 L378.11,95.07 L380.04,95.20 L381.97,95.33 L383.89,95.46 L385.82,95.59 L387.75,95.72 L389.67,95.86 L391.60,96.00 L393.53,96.14 L395.45,96.28 L397.38,96.42 L399.30,96.57 L401.23,96.72 L403.16,96.87 L405.08,97.02 L407.01,97.17 L408.94,97.33 L410.86,97.49 L412.79,97.65 L414.72,97.81 L416.64,97.98 L418.57,98.15 L420.49,98.32 L422.42,98.49 L424.35,98.67 L426.27,98.84 L428.20,99.02 L430.13,99.21 L432.05,99.39 L433.98,99.58 L435.91,99.77 L437.83,99.97 L439.76,100.16 L441.69,100.36 L443.61,100.57 L445.54,100.77 L447.46,100.98 L449.39,101.19 L451.32,101.41 L453.24,101.62 L455.17,101.84 L457.10,102.07 L459.02,102.29 L460.95,102.52 L462.88,102.76 L464.80,103.00 L466.73,103.24 L468.66,103.48 L470.58,103.73 L472.51,103.98 L474.43,104.23 L476.36,104.49 L478.29,104.75 L480.21,105.02 L482.14,105.29 L484.07,105.56 L485.99,105.84 L487.92,106.12 L489.85,106.41 L491.77,106.70 L493.70,106.99 L495.63,107.29 L497.55,107.59 L499.48,107.89 L501.40,108.20 L503.33,108.52 L505.26,108.84 L507.18,109.16 L509.11,109.49 L511.04,109.83 L512.96,110.16 L514.89,110.51 L516.82,110.85 L518.74,111.21 L520.67,111.56 L522.60,111.93 L524.52,112.29 L526.45,112.67 L528.37,113.04 L530.30,113.43 L532.23,113.81 L534.15,114.21 L536.08,114.61 L538.01,115.01 L539.93,115.42 L541.86,115.84 L543.79,116.26 L545.71,116.69 L547.64,117.12 L549.57,117.56 L551.49,118.01 L553.42,118.46 L555.34,118.92 L557.27,119.38 L559.20,119.85 L561.12,120.33 L563.05,120.81 L564.98,121.30 L566.90,121.80 L568.83,122.30 L570.76,122.81 L572.68,123.32 L574.61,123.85 L576.54,124.38 L578.46,124.92 L580.39,125.46 L582.31,126.02 L584.24,126.58 L586.17,127.14 L588.09,127.72 L590.02,128.30 L591.95,128.90 L593.87,129.50 L595.80,130.10 L597.73,130.72 L599.65,131.35 L601.58,131.98 L603.51,132.62 L605.43,133.27 L607.36,133.93 L609.28,134.60 L611.21,135.28 L613.14,135.97 L615.06,136.67 L616.99,137.38 L618.92,138.10 L620.84,138.83 L622.77,139.56 L624.70,140.31 L626.62,141.07 L628.55,141.84 L630.47,142.63 L632.40,143.42 L634.33,144.22 L636.25,145.04 L638.18,145.87 L640.11,146.70 L642.03,147.56 L643.96,148.42 L645.89,149.30 L647.81,150.18 L649.74,151.09 L651.67,152.00 L653.59,152.93 L655.52,153.87 L657.44,154.82 L659.37,155.79 L661.30,156.78 L663.22,157.77 L665.15,158.78 L667.08,159.81 L669.00,160.85 L670.93,161.91 L672.86,162.98 L674.78,164.07 L676.71,165.17 L678.64,166.29 L680.56,167.43 L682.49,168.58 L684.41,169.75 L686.34,170.93 L688.27,172.14 L690.19,173.36 L692.12,174.60 L694.05,175.86 L695.97,177.13 L697.90,178.43 L699.83,179.74 L701.75,181.07 L703.68,182.42 L705.61,183.79 L707.53,185.18 L709.46,186.60 L711.38,188.03 L713.31,189.48 L715.24,190.95 L717.16,192.45 L719.09,193.97 L721.02,195.50 L722.94,197.07 L724.87,198.65 L726.80,200.25 L728.72,201.88 L730.65,203.54 L732.58,205.21 L734.50,206.91 L736.43,208.64 L738.35,210.39 L740.28,212.16 L742.21,213.96 L744.13,215.79 L746.06,217.64 L747.99,219.52 L749.91,221.42 L751.84,223.35 L753.77,225.31 L755.69,227.30 L757.62,229.31 L759.55,231.36 L761.47,233.43 L763.40,235.53 L765.32,237.66 L767.25,239.81 L769.18,242.00 L771.10,244.22 L773.03,246.47 L774.96,248.76 L776.88,251.07 L778.81,253.41 L780.74,255.79 L782.66,258.20 L784.59,260.64 L786.52,263.12 L788.44,265.63 L790.37,268.17 L792.29,270.75 L794.22,273.36 L796.15,276.01 L798.07,278.70 L800.00,281.42 L800.30,281.84 L800.59,282.26 L800.89,282.69 L801.19,283.11 L801.48,283.54 L801.78,283.97 L802.08,284.39 L802.38,284.82 L802.67,285.25 L802.97,285.68 L803.27,286.11 L803.56,286.55 L803.86,286.98 L804.16,287.41 L804.45,287.85 L804.75,288.28 L805.05,288.72 L805.35,289.16 L805.64,289.60 L805.94,290.04 L806.24,290.48 L806.53,290.92 L806.83,291.36 L807.13,291.80 L807.42,292.25 L807.72,292.69 L808.02,293.14 L808.32,293.58 L808.61,294.03 L808.91,294.48 L809.21,294.93 L809.50,295.38 L809.80,295.83 L810.10,296.28 L810.39,296.74 L810.69,297.19 L810.99,297.65 L811.29,298.10 L811.58,298.56 L811.88,299.02 L812.18,299.48 L812.47,299.93 L812.77,300.40 L813.07,300.86 L813.36,301.32 L813.66,301.78 L813.96,302.25 L814.26,302.71 L814.55,303.18 L814.85,303.65 L815.15,304.12 L815.44,304.59 L815.74,305.06 L816.04,305.53 L816.33,306.00 L816.63,306.48 L816.93,306.95 L817.23,307.43 L817.52,307.90 L817.82,308.38 L818.12,308.86 L818.41,309.34 L818.71,309.82 L819.01,310.31 L819.30,310.79 L819.60,311.27 L819.90,311.76 L820.20,312.25 L820.49,312.73 L820.79,313.22 L821.09,313.71 L821.38,314.21 L821.68,314.70 L821.98,315.19 L822.27,315.69 L822.57,316.18 L822.87,316.68 L823.17,317.18 L823.46,317.68 L823.76,318.18 L824.06,318.68 L824.35,319.18 L824.65,319.69 L824.95,320.19 L825.24,320.70 L825.54,321.21 L825.84,321.72 L826.14,322.23 L826.43,322.74 L826.73,323.25 L827.03,323.77 L827.32,324.28 L827.62,324.80 L827.92,325.32 L828.21,325.84 L828.51,326.36 L828.81,326.88 L829.11,327.40 L829.40,327.93 L829.70,328.46 L830.00,328.98 L830.29,329.51 L830.59,330.04 L830.89,330.58 L831.18,331.11 L831.48,331.64 L831.78,332.18 L832.08,332.72 L832.37,333.26 L832.67,333.80 L832.97,334.34 L833.26,334.88 L833.56,335.43 L833.86,335.97 L834.15,336.52 L834.45,337.07 L834.75,337.62 L835.05,338.17 L835.34,338.73 L835.64,339.28 L835.94,339.84 L836.23,340.40 L836.53,340.96 L836.83,341.52 L837.12,342.08 L837.42,342.65 L837.72,343.21 L838.02,343.78 L838.31,344.35 L838.61,344.92 L838.91,345.49 L839.20,346.07 L839.50,346.64 L839.80,347.22 L840.09,347.80 L840.39,348.38 L840.69,348.96 L840.99,349.55 L841.28,350.13 L841.58,350.72 L841.88,351.31 L842.17,351.90 L842.47,352.49 L842.77,353.08 L843.06,353.68 L843.36,354.27 L843.66,354.87 L843.96,355.47 L844.25,356.07 L844.55,356.68 L844.85,357.28 L845.14,357.89 L845.44,358.50 L845.74,359.11 L846.03,359.72 L846.33,360.33 L846.63,360.95 L846.93,361.56 L847.22,362.18 L847.52,362.80 L847.82,363.43 L848.11,364.05 L848.41,364.67 L848.71,365.30 L849.00,365.93 L849.30,366.56 L849.60,367.19 L849.89,367.83 L850.19,368.46 L850.49,369.10 L850.79,369.74 L851.08,370.38 L851.38,371.03 L851.68,371.67 L851.97,372.32 L852.27,372.97 L852.57,373.62 L852.86,374.27 L853.16,374.92 L853.46,375.58 L853.76,376.23 L854.05,376.89 L854.35,377.55 L854.65,378.22 L854.94,378.88 L855.24,379.55 L855.54,380.21 L855.83,380.88 L856.13,381.55 L856.43,382.23 L856.73,382.90 L857.02,383.58 L857.32,384.26 L857.62,384.94 L857.91,385.62 L858.21,386.31 L858.51,386.99 L858.80,387.68 L859.10,388.37 L859.40,389.06 L859.70,389.75 L859.99,390.45 L860.29,391.14 L860.59,391.84 L860.88,392.54 L861.18,393.25 L861.48,393.95 L861.77,394.65 L862.07,395.36 L862.37,396.07 L862.67,396.78 L862.96,397.50 L863.26,398.21 L863.56,398.93 L863.85,399.65 L864.15,400.37 L864.45,401.09 L864.74,401.81 L865.04,402.54 L865.34,403.27 L865.64,404.00 L865.93,404.73 L866.23,405.46 L866.53,406.20 L866.82,406.94 L867.12,407.68 L867.42,408.42 L867.71,409.16 L868.01,409.90 L868.31,410.65 L868.61,411.40 L868.90,412.15 L869.20,412.90 L869.50,413.66 L869.79,414.41 L870.09,415.17 L870.39,415.93 L870.68,416.69 L870.98,417.46 L871.28,418.22 L871.58,418.99 L871.87,419.76 L872.17,420.53 L872.47,421.31 L872.76,422.08 L873.06,422.86 L873.36,423.64 L873.65,424.42 L873.95,425.21 L874.25,425.99 L874.55,426.78 L874.84,427.57 L875.14,428.36 L875.44,429.16 L875.73,429.95 L876.03,430.75 L876.33,431.55 L876.62,432.35 L876.92,433.16 L877.22,433.96 L877.52,434.77 L877.81,435.58 L878.11,436.39 L878.41,437.21 L878.70,438.03 L879.00,438.84 L879.30,439.67 L879.59,440.49 L879.89,441.31 L880.19,442.14 L880.49,442.97 L880.78,443.80 L881.08,444.64 L881.38,445.47 L881.67,446.31 L881.97,447.15 L882.27,447.99 L882.56,448.84 L882.86,449.69 L883.16,450.53 L883.46,451.39 L883.75,452.24 L884.05,453.10 L884.35,453.95 L884.64,454.81 L884.94,455.68 L885.24,456.54 L885.53,457.41 L885.83,458.28 L886.13,459.15 L886.43,460.03 L886.72,460.90 L887.02,461.78 L887.32,462.66 L887.61,463.55 L887.91,464.43 L888.21,465.32 L888.50,466.21 L888.80,467.11 L889.10,468.00 L889.40,468.90 L889.69,469.80 L889.99,470.70 L890.29,471.61 L890.58,472.52 L890.88,473.43 L891.18,474.34 L891.47,475.25 L891.77,476.17 L892.07,477.09 L892.37,478.02 L892.66,478.94 L892.96,479.87 L893.26,480.80 L893.55,481.73 L893.85,482.67 L894.15,483.61 L894.44,484.55 L894.74,485.49 L895.04,486.43 L895.34,487.38 L895.63,488.33 L895.93,489.29 L896.23,490.24 L896.52,491.20 L896.82,492.16 L897.12,493.13 L897.41,494.10 L897.71,495.07 L898.01,496.04 L898.31,497.01 L898.60,497.99 L898.90,498.97 L899.20,499.95 L899.49,500.94 L899.79,501.93 L900.09,502.92 L900.38,503.91 L900.68,504.91 L900.98,505.91 L901.27,506.91 L901.57,507.92 L901.87,508.93 L902.17,509.94 L902.46,510.95 L902.76,511.97 L903.06,512.99 L903.35,514.01 L903.65,515.03 L903.95,516.06 L904.24,517.09 L904.54,518.13 L904.84,519.16 L905.14,520.20 L905.43,521.25 L905.73,522.29 L906.03,523.34 L906.32,524.39 L906.62,525.45 L906.92,526.50 L907.21,527.56 L907.51,528.63 L907.81,529.69 L908.11,530.76 L908.40,531.83 L908.70,532.91 L909.00,533.99 L909.29,535.07 L909.59,536.15 L909.89,537.24 L910.18,538.33 L910.48,539.42 L910.78,540.52 L911.08,541.62 L911.37,542.72 L911.67,543.83 L911.97,544.94 L912.26,546.05 L912.56,547.16 L912.86,548.28 L913.15,549.40 L913.45,550.53 L913.75,551.65 L914.05,552.78 L914.34,553.92 L914.64,555.05 L914.94,556.19 L915.23,557.34 L915.53,558.48 L915.83,559.63 L916.12,560.78 L916.42,561.94 L916.72,563.10 L917.02,564.26 L917.31,565.42 L917.61,566.59 L917.91,567.76 L918.20,568.94 L918.50,570.11 L918.80,571.29 L919.09,572.48 L919.39,573.67 L919.69,574.86 L919.99,576.05 L920.28,577.25 L920.58,578.45 L920.88,579.65 L921.17,580.86 L921.47,582.07 L921.77,583.28 L922.06,584.49 L922.36,585.71 L922.66,586.94 L922.96,588.16 L923.25,589.39 L923.55,590.62 L923.85,591.86 L924.14,593.10 L924.44,594.34 L924.74,595.59 L925.03,596.83 L925.33,598.09 L925.63,599.34 L925.93,600.60 L926.22,601.86 L926.52,603.13 L926.82,604.39 L927.11,605.67 L927.41,606.94 L927.71,608.22 L928.00,609.50 L928.30,610.78 L928.60,612.07 L928.90,613.36 L929.19,614.66 L929.49,615.96 L929.79,617.26 L930.08,618.56 L930.38,619.87 L930.68,621.18 L930.97,622.49 L931.27,623.81 L931.57,625.13 L931.87,626.46 L932.16,627.78 L932.46,629.11 L932.76,630.45 L933.05,631.79 L933.35,633.13 L933.65,634.47 L933.94,635.82 L934.24,637.17 L934.54,638.52 L934.84,639.88 L935.13,641.24 L935.43,642.60 L935.73,643.97 L936.02,645.34 L936.32,646.71 L936.62,648.09 L936.91,649.47 L937.21,650.85 L937.51,652.24 L937.81,653.63 L938.10,655.02 L938.40,656.42 L938.70,657.82 L938.99,659.22 L939.29,660.63 L939.59,662.04 L939.88,663.45 L940.18,664.86 L940.48,666.28 L940.78,667.71 L941.07,669.13 L941.37,670.56 L941.67,671.99 L941.96,673.43 L942.26,674.87 L942.56,676.31 L942.85,677.76 L943.15,679.20 L943.45,680.66 L943.75,682.11 L944.04,683.57 L944.34,685.03 L944.64,686.50 L944.93,687.96 L945.23,689.43 L945.53,690.91 L945.82,692.39 L946.12,693.87 L946.42,695.35 L946.72,696.84 L947.01,698.33 L947.31,699.82 L947.61,701.32 L947.90,702.82 L948.20,704.32" stroke="#0000ff" stroke-dasharray="8.3 15.2"/>
<path d="M208.00,89.40 L209.98,89.41 L211.96,89.42 L213.94,89.43 L215.92,89.44 L217.90,89.45 L219.88,89.47 L221.86,89.48 L223.84,89.50 L225.82,89.52 L227.80,89.54 L229.78,89.56 L231.76,89.58 L233.74,89.61 L235.72,89.64 L237.70,89.66 L239.68,89.69 L241.66,89.73 L243.64,89.76 L245.62,89.79 L247.60,89.83 L249.58,89.86 L251.56,89.90 L253.54,89.94 L255.52,89.98 L257.50,90.02 L259.48,90.06 L261.46,90.11 L263.44,90.15 L265.42,90.20 L267.40,90.25 L269.38,90.30 L271.36,90.35 L273.34,90.40 L275.32,90.46 L277.30,90.51 L279.28,90.57 L281.26,90.62 L283.24,90.68 L285.22,90.74 L287.20,90.80 L289.18,90.86 L291.16,90.93 L293.14,90.99 L295.12,91.06 L297.10,91.13 L299.08,91.19 L301.06,91.26 L303.04,91.34 L305.02,91.41 L307.00,91.48 L308.98,91.56 L310.96,91.63 L312.94,91.71 L314.92,91.79 L316.90,91.87 L318.88,91.95 L320.86,92.03 L322.84,92.12 L324.82,92.20 L326.80,92.29 L328.78,92.38 L330.76,92.47 L332.74,92.56 L334.72,92.65 L336.70,92.75 L338.68,92.84 L340.66,92.94 L342.64,93.04 L344.62,93.14 L346.60,93.24 L348.58,93.34 L350.56,93.45 L352.54,93.55 L354.52,93.66 L356.49,93.77 L358.47,93.88 L360.45,93.99 L362.43,94.11 L364.41,94.22 L366.39,94.34 L368.37,94.46 L370.35,94.58 L372.33,94.70 L374.31,94.83 L376.29,94.95 L378.27,95.08 L380.25,95.21 L382.23,95.34 L384.21,95.48 L386.19,95.61 L388.17,95.75 L390.15,95.89 L392.13,96.04 L394.11,96.18 L396.09,96.33 L398.07,96.47 L400.05,96.62 L402.03,96.78 L404.01,96.93 L405.99,97.09 L407.97,97.25 L409.95,97.41 L411.93,97.58 L413.91,97.74 L415.89,97.91 L417.87,98.09 L419.85,98.26 L421.83,98.44 L423.81,98.62 L425.79,98.80 L427.77,98.98 L429.75,99.17 L431.73,99.36 L433.71,99.56 L435.69,99.75 L437.67,99.95 L439.65,100.15 L441.63,100.36 L443.61,100.57 L445.59,100.78 L447.57,100.99 L449.55,101.21 L451.53,101.43 L453.51,101.65 L455.49,101.88 L457.47,102.11 L459.45,102.35 L461.43,102.58 L463.41,102.82 L465.39,103.07 L467.37,103.32 L469.35,103.57 L471.33,103.82 L473.31,104.08 L475.29,104.35 L477.27,104.61 L479.25,104.89 L481.23,105.16 L483.21,105.44 L485.19,105.72 L487.17,106.01 L489.15,106.30 L491.13,106.60 L493.11,106.90 L495.09,107.20 L497.07,107.51 L499.05,107.83 L501.03,108.14 L503.01,108.47 L504.99,108.79 L506.97,109.13 L508.95,109.46 L510.93,109.81 L512.91,110.15 L514.89,110.51 L516.87,110.86 L518.85,111.23 L520.83,111.59 L522.81,111.97 L524.79,112.34 L526.77,112.73 L528.75,113.12 L530.73,113.51 L532.71,113.91 L534.69,114.32 L536.67,114.73 L538.65,115.15 L540.63,115.57 L542.61,116.00 L544.59,116.44 L546.57,116.88 L548.55,117.33 L550.53,117.78 L552.51,118.24 L554.49,118.71 L556.47,119.19 L558.45,119.67 L560.43,120.15 L562.41,120.65 L564.39,121.15 L566.37,121.66 L568.35,122.17 L570.33,122.69 L572.31,123.22 L574.29,123.76 L576.27,124.31 L578.25,124.86 L580.23,125.42 L582.21,125.98 L584.19,126.56 L586.17,127.14 L588.15,127.74 L590.13,128.34 L592.11,128.95 L594.09,129.56 L596.07,130.19 L598.05,130.82 L600.03,131.47 L602.01,132.12 L603.99,132.78 L605.97,133.46 L607.95,134.14 L609.93,134.83 L611.91,135.53 L613.89,136.24 L615.87,136.96 L617.85,137.70 L619.83,138.44 L621.81,139.19 L623.79,139.96 L625.77,140.73 L627.75,141.52 L629.73,142.32 L631.71,143.13 L633.69,143.95 L635.67,144.79 L637.65,145.63 L639.63,146.49 L641.61,147.37 L643.59,148.25 L645.57,149.15 L647.55,150.06 L649.53,150.98 L651.51,151.92 L653.48,152.88 L655.46,153.84 L657.44,154.82 L659.42,155.82 L661.40,156.83 L663.38,157.86 L665.36,158.90 L667.34,159.95 L669.32,161.03 L671.30,162.12 L673.28,163.22 L675.26,164.34 L677.24,165.48 L679.22,166.64 L681.20,167.81 L683.18,169.00 L685.16,170.21 L687.14,171.43 L689.12,172.68 L691.10,173.94 L693.08,175.22 L695.06,176.53 L697.04,177.85 L699.02,179.19 L701.00,180.55 L702.98,181.93 L704.96,183.33 L706.94,184.76 L708.92,186.20 L710.90,187.67 L712.88,189.16 L714.86,190.67 L716.84,192.20 L718.82,193.75 L720.80,195.33 L722.78,196.93 L724.76,198.56 L726.74,200.21 L728.72,201.88 L730.70,203.58 L732.68,205.31 L734.66,207.06 L736.64,208.83 L738.62,210.63 L740.60,212.46 L742.58,214.32 L744.56,216.20 L746.54,218.11 L748.52,220.04 L750.50,222.01 L752.48,224.00 L754.46,226.03 L756.44,228.08 L758.42,230.16 L760.40,232.27 L762.38,234.41 L764.36,236.59 L766.34,238.79 L768.32,241.03 L770.30,243.30 L772.28,245.60 L774.26,247.93 L776.24,250.29 L778.22,252.69 L780.20,255.13 L782.18,257.59 L784.16,260.10 L786.14,262.63 L788.12,265.21 L790.10,267.82 L792.08,270.46 L794.06,273.14 L796.04,275.86 L798.02,278.62 L800.00,281.42 L800.30,281.84 L800.59,282.26 L800.89,282.69 L801.19,283.11 L801.48,283.54 L801.78,283.97 L802.08,284.39 L802.38,284.82 L802.67,285.25 L802.97,285.68 L803.27,286.11 L803.56,286.55 L803.86,286.98 L804.16,287.41 L804.45,287.85 L804.75,288.28 L805.05,288.72 L805.35,289.16 L805.64,289.60 L805.94,290.04 L806.24,290.48 L806.53,290.92 L806.83,291.36 L807.13,291.80 L807.42,292.25 L807.72,292.69 L808.02,293.14 L808.32,293.58 L808.61,294.03 L808.91,294.48 L809.21,294.93 L809.50,295.38 L809.80,295.83 L810.10,296.28 L810.39,296.74 L810.69,297.19 L810.99,297.65 L811.29,298.10 L811.58,298.56 L811.88,299.02 L812.18,299.48 L812.47,299.93 L812.77,300.40 L813.07,300.86 L813.36,301.32 L813.66,301.78 L813.96,302.25 L814.26,302.71 L814.55,303.18 L814.85,303.65 L815.15,304.12 L815.44,304.59 L815.74,305.06 L816.04,305.53 L816.33,306.00 L816.63,306.48 L816.93,306.95 L817.23,307.43 L817.52,307.90 L817.82,308.38 L818.12,308.86 L818.41,309.34 L818.71,309.82 L819.01,310.31 L819.30,310.79 L819.60,311.27 L819.90,311.76 L820.20,312.25 L820.49,312.73 L820.79,313.22 L821.09,313.71 L821.38,314.21 L821.68,314.70 L821.98,315.19 L822.27,315.69 L822.57,316.18 L822.87,316.68 L823.17,317.18 L823.46,317.68 L823.76,318.18 L824.06,318.68 L824.35,319.18 L824.65,319.69 L824.95,320.19 L825.24,320.70 L825.54,321.21 L825.84,321.72 L826.14,322.23 L826.43,322.74 L826.73,323.25 L827.03,323.77 L827.32,324.28 L827.62,324.80 L827.92,325.32 L828.21,325.84 L828.51,326.36 L828.81,326.88 L829.11,327.40 L829.40,327.93 L829.70,328.46 L830.00,328.98 L830.29,329.51 L830.59,330.04 L830.89,330.58 L831.18,331.11 L831.48,331.64 L831.78,332.18 L832.08,332.72 L832.37,333.26 L832.67,333.80 L832.97,334.34 L833.26,334.88 L833.56,335.43 L833.86,335.97 L834.15,336.52 L834.45,337.07 L834.75,337.62 L835.05,338.17 L835.34,338.73 L835.64,339.28 L835.94,339.84 L836.23,340.40 L836.53,340.96 L836.83,341.52 L837.12,342.08 L837.42,342.65 L837.72,343.21 L838.02,343.78 L838.31,344.35 L838.61,344.92 L838.91,345.49 L839.20,346.07 L839.50,346.64 L839.80,347.22 L840.09,347.80 L840.39,348.38 L840.69,348.96 L840.99,349.55 L841.28,350.13 L841.58,350.72 L841.88,351.31 L842.17,351.90 L842.47,352.49 L842.77,353.08 L843.06,353.68 L843.36,354.27 L843.66,354.87 L843.96,355.47 L844.25,356.07 L844.55,356.68 L844.85,357.28 L845.14,357.89 L845.44,358.50 L845.74,359.11 L846.03,359.72 L846.33,360.33 L846.63,360.95 L846.93,361.56 L847.22,362.18 L847.52,362.80 L847.82,363.43 L848.11,364.05 L848.41,364.67 L848.71,365.30 L849.00,365.93 L849.30,366.56 L849.60,367.19 L849.89,367.83 L850.19,368.46 L850.49,369.10 L850.79,369.74 L851.08,370.38 L851.38,371.03 L851.68,371.67 L851.97,372.32 L852.27,372.97 L852.57,373.62 L852.86,374.27 L853.16,374.92 L853.46,375.58 L853.76,376.23 L854.05,376.89 L854.35,377.55 L854.65,378.22 L854.94,378.88 L855.24,379.55 L855.54,380.21 L855.83,380.88 L856.13,381.55 L856.43,382.23 L856.73,382.90 L857.02,383.58 L857.32,384.26 L857.62,384.94 L857.91,385.62 L858.21,386.31 L858.51,386.99 L858.80,387.68 L859.10,388.37 L859.40,389.06 L859.70,389.75 L859.99,390.45 L860.29,391.14 L860.59,391.84 L860.88,392.54 L861.18,393.25 L861.48,393.95 L861.77,394.65 L862.07,395.36 L862.37,396.07 L862.67,396.78 L862.96,397.50 L863.26,398.21 L863.56,398.93 L863.85,399.65 L864.15,400.37 L864.45,401.09 L864.74,401.81 L865.04,402.54 L865.34,403.27 L865.64,404.00 L865.93,404.73 L866.23,405.46 L866.53,406.20 L866.82,406.94 L867.12,407.68 L867.42,408.42 L867.71,409.16 L868.01,409.90 L868.31,410.65 L868.61,411.40 L868.90,412.15 L869.20,412.90 L869.50,413.66 L869.79,414.41 L870.09,415.17 L870.39,415.93 L870.68,416.69 L870.98,417.46 L871.28,418.22 L871.58,418.99 L871.87,419.76 L872.17,420.53 L872.47,421.31 L872.76,422.08 L873.06,422.86 L873.36,423.64 L873.65,424.42 L873.95,425.21 L874.25,425.99 L874.55,426.78 L874.84,427.57 L875.14,428.36 L875.44,429.16 L875.73,429.95 L876.03,430.75 L876.33,431.55 L876.62,432.35 L876.92,433.16 L877.22,433.96 L877.52,434.77 L877.81,435.58 L878.11,436.39 L878.41,437.21 L878.70,438.03 L879.00,438.84 L879.30,439.67 L879.59,440.49 L879.89,441.31 L880.19,442.14 L880.49,442.97 L880.78,443.80 L881.08,444.64 L881.38,445.47 L881.67,446.31 L881.97,447.15 L882.27,447.99 L882.56,448.84 L882.86,449.69 L883.16,450.53 L883.46,451.39 L883.75,452.24 L884.05,453.10 L884.35,453.95 L884.64,454.81 L884.94,455.68 L885.24,456.54 L885.53,457.41 L885.83,458.28 L886.13,459.15 L886.43,460.03 L886.72,460.90 L887.02,461.78 L887.32,462.66 L887.61,463.55 L887.91,464.43 L888.21,465.32 L888.50,466.21 L888.80,467.11 L889.10,468.00 L889.40,468.90 L889.69,469.80 L889.99,470.70 L890.29,471.61 L890.58,472.52 L890.88,473.43 L891.18,474.34 L891.47,475.25 L891.77,476.17 L892.07,477.09 L892.37,478.02 L892.66,478.94 L892.96,479.87 L893.26,480.80 L893.55,481.73 L893.85,482.67 L894.15,483.61 L894.44,484.55 L894.74,485.49 L895.04,486.43 L895.34,487.38 L895.63,488.33 L895.93,489.29 L896.23,490.24 L896.52,491.20 L896.82,492.16 L897.12,493.13 L897.41,494.10 L897.71,495.07 L898.01,496.04 L898.31,497.01 L898.60,497.99 L898.90,498.97 L899.20,499.95 L899.49,500.94 L899.79,501.93 L900.09,502.92 L900.38,503.91 L900.68,504.91 L900.98,505.91 L901.27,506.91 L901.57,507.92 L901.87,508.93 L902.17,509.94 L902.46,510.95 L902.76,511.97 L903.06,512.99 L903.35,514.01 L903.65,515.03 L903.95,516.06 L904.24,517.09 L904.54,518.13 L904.84,519.16 L905.14,520.20 L905.43,521.25 L905.73,522.29 L906.03,523.34 L906.32,524.39 L906.62,525.45 L906.92,526.50 L907.21,527.56 L907.51,528.63 L907.81,529.69 L908.11,530.76 L908.40,531.83 L908.70,532.91 L909.00,533.99 L909.29,535.07 L909.59,536.15 L909.89,537.24 L910.18,538.33 L910.48,539.42 L910.78,540.52 L911.08,541.62 L911.37,542.72 L911.67,543.83 L911.97,544.94 L912.26,546.05 L912.56,547.16 L912.86,548.28 L913.15,549.40 L913.45,550.53 L913.75,551.65 L914.05,552.78 L914.34,553.92 L914.64,555.05 L914.94,556.19 L915.23,557.34 L915.53,558.48 L915.83,559.63 L916.12,560.78 L916.42,561.94 L916.72,563.10 L917.02,564.26 L917.31,565.42 L917.61,566.59 L917.91,567.76 L918.20,568.94 L918.50,570.11 L918.80,571.29 L919.09,572.48 L919.39,573.67 L919.69,574.86 L919.99,576.05 L920.28,577.25 L920.58,578.45 L920.88,579.65 L921.17,580.86 L921.47,582.07 L921.77,583.28 L922.06,584.49 L922.36,585.71 L922.66,586.94 L922.96,588.16 L923.25,589.39 L923.55,590.62 L923.85,591.86 L924.14,593.10 L924.44,594.34 L924.74,595.59 L925.03,596.83 L925.33,598.09 L925.63,599.34 L925.93,600.60 L926.22,601.86 L926.52,603.13 L926.82,604.39 L927.11,605.67 L927.41,606.94 L927.71,608.22 L928.00,609.50 L928.30,610.78 L928.60,612.07 L928.90,613.36 L929.19,614.66 L929.49,615.96 L929.79,617.26 L930.08,618.56 L930.38,619.87 L930.68,621.18 L930.97,622.49 L931.27,623.81 L931.57,625.13 L931.87,626.46 L932.16,627.78 L932.46,629.11 L932.76,630.45 L933.05,631.79 L933.35,633.13 L933.65,634.47 L933.94,635.82 L934.24,637.17 L934.54,638.52 L934.84,639.88 L935.13,641.24 L935.43,642.60 L935.73,643.97 L936.02,645.34 L936.32,646.71 L936.62,648.09 L936.91,649.47 L937.21,650.85 L937.51,652.24 L937.81,653.63 L938.10,655.02 L938.40,656.42 L938.70,657.82 L938.99,659.22 L939.29,660.63 L939.59,662.04 L939.88,663.45 L940.18,664.86 L940.48,666.28 L940.78,667.71 L941.07,669.13 L941.37,670.56 L941.67,671.99 L941.96,673.43 L942.26,674.87 L942.56,676.31 L942.85,677.76 L943.15,679.20 L943.45,680.66 L943.75,682.11 L944.04,683.57 L944.34,685.03 L944.64,686.50 L944.93,687.96 L945.23,689.43 L945.53,690.91 L945.82,692.39 L946.12,693.87 L946.42,695.35 L946.72,696.84 L947.01,698.33 L947.31,699.82 L947.61,701.32 L947.90,702.82 L948.20,704.32" stroke="#0000ff" stroke-dasharray="2.7 15.15"/>
</g>
<path d="M954.50,737.60 L936.72,701.43 L948.17,703.38 L958.16,697.46 Z" fill="#ff8000"/>
<path d="M954.50,737.60 L937.25,701.84 L948.26,703.87 L957.80,698.04 Z" fill="#0000ff"/>
<g fill="none" stroke-width="4.8" stroke="#000">
<path d="M227.40,89.53 L229.32,89.56 L231.23,89.58 L233.15,89.60 L235.06,89.63 L236.98,89.65 L238.89,89.68 L240.81,89.71 L242.72,89.74 L244.64,89.77 L246.55,89.81 L248.47,89.84 L250.38,89.88 L252.30,89.91 L254.21,89.95 L256.13,89.99 L258.04,90.03 L259.96,90.08 L261.87,90.12 L263.79,90.16 L265.70,90.21 L267.62,90.26 L269.53,90.30 L271.45,90.35 L273.36,90.40 L275.28,90.45 L277.19,90.51 L279.11,90.56 L281.02,90.62 L282.94,90.67 L284.85,90.73 L286.77,90.79 L288.68,90.85 L290.60,90.91 L292.51,90.97 L294.43,91.04 L296.34,91.10 L298.26,91.17 L300.17,91.23 L302.09,91.29 L304.00,91.35 L305.92,91.41 L307.83,91.47 L309.75,91.54 L311.66,91.60 L313.58,91.67 L315.50,91.73 L317.41,91.80 L319.33,91.87 L321.24,91.94 L323.16,92.01 L325.07,92.08 L326.99,92.16 L328.90,92.23 L330.82,92.31 L332.74,92.39 L334.65,92.47 L336.57,92.55 L338.48,92.63 L340.40,92.72 L342.31,92.80 L344.23,92.89 L346.15,92.97 L348.06,93.06 L349.98,93.15 L351.89,93.25 L353.81,93.34 L355.72,93.44 L357.64,93.53 L359.56,93.63 L361.47,93.73 L363.39,93.83 L365.30,93.93 L367.22,94.04 L369.14,94.14 L371.05,94.25 L372.97,94.36 L374.88,94.47 L376.80,94.59 L378.72,94.70 L380.63,94.82 L382.55,94.94 L384.46,95.06 L386.38,95.18 L388.30,95.30 L390.21,95.43 L392.13,95.55 L394.05,95.68 L395.96,95.82 L397.88,95.95 L399.79,96.08 L401.71,96.22 L403.63,96.36 L405.54,96.50 L407.46,96.65 L409.38,96.79 L411.29,96.94 L413.21,97.09 L415.13,97.25 L417.04,97.40 L418.96,97.56 L420.88,97.72 L422.79,97.88 L424.71,98.05 L426.63,98.22 L428.54,98.39 L430.46,98.56 L432.38,98.73 L434.29,98.91 L436.21,99.09 L438.13,99.28 L440.05,99.46 L441.96,99.65 L443.88,99.84 L445.80,100.04 L447.71,100.23 L449.63,100.44 L451.55,100.64 L453.47,100.85 L455.38,101.06 L457.30,101.27 L459.22,101.48 L461.14,101.70 L463.05,101.93 L464.97,102.15 L466.89,102.38 L468.81,102.62 L470.73,102.85 L472.64,103.09 L474.56,103.33 L476.48,103.58 L478.40,103.83 L480.32,104.09 L482.23,104.35 L484.15,104.61 L486.07,104.87 L487.99,105.14 L489.91,105.42 L491.83,105.70 L493.74,105.98 L495.66,106.26 L497.58,106.55 L499.50,106.85 L501.42,107.15 L503.34,107.45 L505.26,107.76 L507.18,108.07 L509.10,108.39 L511.02,108.71 L512.93,109.03 L514.85,109.37 L516.77,109.70 L518.69,110.04 L520.61,110.39 L522.53,110.74 L524.45,111.09 L526.37,111.45 L528.29,111.82 L530.21,112.19 L532.13,112.57 L534.05,112.95 L535.97,113.33 L537.89,113.73 L539.81,114.12 L541.73,114.53 L543.65,114.94 L545.58,115.35 L547.50,115.77 L549.42,116.20 L551.34,116.64 L553.26,117.08 L555.18,117.54 L557.09,118.00 L559.01,118.47 L560.93,118.94 L562.85,119.42 L564.77,119.90 L566.69,120.40 L568.61,120.90 L570.53,121.40 L572.45,121.91 L574.37,122.43 L576.29,122.96 L578.20,123.50 L580.12,124.04 L582.04,124.58 L583.96,125.14 L585.88,125.70 L587.80,126.28 L589.72,126.85 L591.64,127.44 L593.56,128.04 L595.48,128.64 L597.40,129.25 L599.32,129.87 L601.24,130.50 L603.16,131.14 L605.08,131.78 L607.00,132.44 L608.92,133.10 L610.84,133.77 L612.76,134.46 L614.68,135.15 L616.60,135.85 L618.52,136.56 L620.45,137.28 L622.37,138.02 L624.29,138.76 L626.21,139.51 L628.13,140.27 L630.05,141.05 L631.97,141.83 L633.89,142.63 L635.81,143.44 L637.73,144.26 L639.65,145.09 L641.58,145.93 L643.50,146.79 L645.42,147.65 L647.34,148.53 L649.26,149.43 L651.18,150.33 L653.10,151.25 L655.03,152.18 L656.95,153.12 L658.87,154.08 L660.79,155.06 L662.71,156.04 L664.64,157.04 L666.56,158.06 L668.48,159.09 L670.40,160.13 L672.32,161.19 L674.25,162.27 L676.17,163.36 L678.09,164.47 L680.01,165.59 L681.93,166.73 L683.86,167.89 L685.78,169.06 L687.70,170.25 L689.62,171.46 L691.54,172.68 L693.47,173.92 L695.39,175.18 L697.31,176.46 L699.23,177.76 L701.16,179.07 L703.08,180.41 L705.00,181.76 L706.92,183.14 L708.84,184.53 L710.77,185.95 L712.69,187.38 L714.61,188.84 L716.53,190.31 L718.46,191.81 L720.38,193.33 L722.30,194.87 L724.22,196.43 L726.14,198.02 L728.07,199.62 L729.99,201.25 L731.91,202.91 L733.83,204.59 L735.75,206.29 L737.68,208.01 L739.60,209.76 L741.52,211.54 L743.44,213.34 L745.36,215.16 L747.28,217.02 L749.21,218.89 L751.13,220.80 L753.05,222.73 L754.97,224.68 L756.89,226.67 L758.81,228.68 L760.73,230.72 L762.65,232.79 L764.58,234.89 L766.50,237.02 L768.42,239.17 L770.34,241.36 L772.26,243.57 L774.18,245.82 L776.10,248.10 L778.02,250.41 L779.94,252.75 L781.86,255.12 L783.78,257.52 L785.70,259.96 L787.62,262.43 L789.54,264.93 L791.46,267.47 L793.38,270.04 L795.30,272.64 L797.22,275.28 L799.14,277.96 L801.06,280.67 L801.35,281.08 L801.64,281.49 L801.93,281.90 L802.22,282.32 L802.51,282.73 L802.79,283.14 L803.08,283.56 L803.37,283.98 L803.66,284.39 L803.95,284.81 L804.24,285.23 L804.52,285.65 L804.81,286.07 L805.10,286.49 L805.39,286.91 L805.68,287.34 L805.97,287.76 L806.26,288.18 L806.54,288.61 L806.83,289.04 L807.12,289.46 L807.41,289.89 L807.70,290.32 L807.99,290.75 L808.27,291.18 L808.56,291.61 L808.85,292.04 L809.14,292.48 L809.43,292.91 L809.72,293.34 L810.01,293.78 L810.29,294.22 L810.58,294.65 L810.87,295.09 L811.16,295.53 L811.45,295.97 L811.74,296.41 L812.02,296.85 L812.31,297.30 L812.60,297.74 L812.89,298.18 L813.18,298.63 L813.47,299.08 L813.75,299.52 L814.04,299.97 L814.33,300.42 L814.62,300.87 L814.91,301.32 L815.20,301.77 L815.49,302.23 L815.77,302.68 L816.06,303.13 L816.35,303.59 L816.64,304.05 L816.93,304.50 L817.22,304.96 L817.50,305.42 L817.79,305.88 L818.08,306.34 L818.37,306.81 L818.66,307.27 L818.95,307.73 L819.24,308.20 L819.52,308.67 L819.81,309.13 L820.10,309.60 L820.39,310.07 L820.68,310.54 L820.97,311.01 L821.25,311.49 L821.54,311.96 L821.83,312.43 L822.12,312.91 L822.41,313.39 L822.70,313.86 L822.98,314.34 L823.27,314.82 L823.56,315.31 L823.85,315.79 L824.14,316.27 L824.43,316.76 L824.72,317.24 L825.00,317.73 L825.29,318.22 L825.58,318.70 L825.87,319.20 L826.16,319.69 L826.45,320.18 L826.73,320.67 L827.02,321.17 L827.31,321.66 L827.60,322.16 L827.89,322.66 L828.18,323.16 L828.47,323.66 L828.75,324.16 L829.04,324.67 L829.33,325.17 L829.62,325.68 L829.91,326.18 L830.20,326.69 L830.48,327.20 L830.77,327.71 L831.06,328.23 L831.35,328.74 L831.64,329.26 L831.93,329.77 L832.22,330.29 L832.50,330.81 L832.79,331.33 L833.08,331.85 L833.37,332.37 L833.66,332.90 L833.95,333.42 L834.23,333.95 L834.52,334.48 L834.81,335.01 L835.10,335.54 L835.39,336.07 L835.68,336.61 L835.97,337.14 L836.25,337.68 L836.54,338.22 L836.83,338.76 L837.12,339.30 L837.41,339.84 L837.70,340.38 L837.98,340.93 L838.27,341.48 L838.56,342.02 L838.85,342.57 L839.14,343.12 L839.43,343.68 L839.72,344.23 L840.00,344.79 L840.29,345.34 L840.58,345.90 L840.87,346.46 L841.16,347.02 L841.45,347.59 L841.73,348.15 L842.02,348.72 L842.31,349.29 L842.60,349.85 L842.89,350.43 L843.18,351.00 L843.46,351.57 L843.75,352.15 L844.04,352.72 L844.33,353.30 L844.62,353.88 L844.91,354.46 L845.20,355.05 L845.48,355.63 L845.77,356.22 L846.06,356.81 L846.35,357.39 L846.64,357.99 L846.93,358.58 L847.21,359.17 L847.50,359.77 L847.79,360.37 L848.08,360.96 L848.37,361.57 L848.66,362.17 L848.94,362.77 L849.23,363.38 L849.52,363.98 L849.81,364.59 L850.10,365.20 L850.39,365.81 L850.67,366.43 L850.96,367.04 L851.25,367.66 L851.54,368.28 L851.83,368.90 L852.12,369.52 L852.40,370.14 L852.69,370.77 L852.98,371.39 L853.27,372.02 L853.56,372.65 L853.85,373.28 L854.13,373.92 L854.42,374.55 L854.71,375.19 L855.00,375.83 L855.29,376.47 L855.58,377.11 L855.86,377.75 L856.15,378.40 L856.44,379.05 L856.72,379.70 L857.00,380.35 L857.28,381.00 L857.57,381.66 L857.85,382.32 L858.13,382.98 L858.41,383.64 L858.70,384.30 L858.98,384.96 L859.26,385.63 L859.54,386.30 L859.83,386.97 L860.11,387.64 L860.39,388.31 L860.67,388.98 L860.96,389.66 L861.24,390.34 L861.52,391.02 L861.80,391.70 L862.09,392.38 L862.37,393.07 L862.65,393.75 L862.93,394.44 L863.22,395.13 L863.50,395.82 L863.78,396.51 L864.06,397.21 L864.35,397.91 L864.63,398.60 L864.91,399.30 L865.19,400.00 L865.47,400.71 L865.76,401.41 L866.04,402.12 L866.32,402.83 L866.60,403.54 L866.89,404.25 L867.17,404.96 L867.45,405.68 L867.73,406.40 L868.02,407.12 L868.30,407.84 L868.58,408.56 L868.86,409.28 L869.15,410.01 L869.43,410.74 L869.71,411.47 L869.99,412.20 L870.27,412.93 L870.56,413.67 L870.84,414.40 L871.12,415.14 L871.40,415.88 L871.69,416.63 L871.97,417.37 L872.25,418.12 L872.53,418.86 L872.81,419.61 L873.10,420.36 L873.38,421.12 L873.66,421.87 L873.94,422.63 L874.23,423.39 L874.51,424.15 L874.79,424.91 L875.07,425.68 L875.35,426.44 L875.64,427.21 L875.92,427.98 L876.20,428.75 L876.48,429.53 L876.77,430.30 L877.05,431.08 L877.33,431.86 L877.61,432.64 L877.89,433.42 L878.18,434.21 L878.46,435.00 L878.74,435.78 L879.02,436.58 L879.30,437.37 L879.59,438.16 L879.87,438.96 L880.15,439.76 L880.43,440.56 L880.72,441.36 L881.00,442.17 L881.28,442.98 L881.56,443.79 L881.84,444.60 L882.13,445.41 L882.41,446.23 L882.69,447.04 L882.97,447.86 L883.25,448.68 L883.54,449.51 L883.82,450.33 L884.10,451.16 L884.38,451.99 L884.66,452.82 L884.95,453.66 L885.23,454.49 L885.51,455.33 L885.79,456.17 L886.07,457.01 L886.36,457.86 L886.64,458.70 L886.92,459.55 L887.20,460.40 L887.48,461.26 L887.77,462.11 L888.05,462.97 L888.33,463.83 L888.61,464.69 L888.89,465.56 L889.18,466.42 L889.46,467.29 L889.74,468.16 L890.02,469.04 L890.30,469.91 L890.59,470.79 L890.87,471.67 L891.15,472.55 L891.43,473.44 L891.71,474.33 L892.00,475.22 L892.28,476.11 L892.56,477.00 L892.84,477.90 L893.12,478.80 L893.41,479.70 L893.69,480.60 L893.97,481.51 L894.25,482.42 L894.53,483.33 L894.82,484.24 L895.10,485.16 L895.38,486.07 L895.66,487.00 L895.94,487.92 L896.23,488.84 L896.51,489.77 L896.79,490.70 L897.07,491.63 L897.35,492.57 L897.64,493.51 L897.92,494.45 L898.20,495.39 L898.48,496.34 L898.76,497.28 L899.04,498.23 L899.33,499.19 L899.61,500.14 L899.89,501.10 L900.17,502.06 L900.45,503.02 L900.74,503.99 L901.02,504.96 L901.30,505.93 L901.58,506.90 L901.86,507.88 L902.15,508.86 L902.43,509.84 L902.71,510.82 L902.99,511.81 L903.27,512.80 L903.55,513.79 L903.84,514.79 L904.12,515.79 L904.40,516.79 L904.68,517.79 L904.96,518.79 L905.25,519.80 L905.53,520.81 L905.81,521.83 L906.09,522.84 L906.37,523.86 L906.65,524.89 L906.94,525.91 L907.22,526.94 L907.50,527.97 L907.78,529.00 L908.06,530.04 L908.35,531.08 L908.63,532.12 L908.91,533.16 L909.19,534.21 L909.47,535.26 L909.75,536.31 L910.04,537.37 L910.32,538.43 L910.60,539.49 L910.88,540.55 L911.16,541.62 L911.45,542.69 L911.73,543.76 L912.01,544.84 L912.29,545.92 L912.57,547.00 L912.85,548.08 L913.14,549.17 L913.42,550.26 L913.70,551.35 L913.98,552.45 L914.26,553.55 L914.54,554.65 L914.83,555.75 L915.11,556.86 L915.40,557.97 L915.69,559.08 L915.97,560.20 L916.26,561.31 L916.55,562.43 L916.84,563.56 L917.12,564.69 L917.41,565.81 L917.70,566.95 L917.99,568.08 L918.28,569.22 L918.56,570.36 L918.85,571.51 L919.14,572.66 L919.43,573.81 L919.71,574.96 L920.00,576.12 L920.29,577.28 L920.58,578.44 L920.87,579.61 L921.15,580.77 L921.44,581.95 L921.73,583.12 L922.02,584.30 L922.30,585.48 L922.59,586.66 L922.88,587.85 L923.17,589.04 L923.46,590.23 L923.74,591.43 L924.03,592.63 L924.32,593.83 L924.61,595.04 L924.89,596.25 L925.18,597.46 L925.47,598.67 L925.76,599.89 L926.05,601.11 L926.33,602.33 L926.62,603.56 L926.91,604.79 L927.20,606.02 L927.48,607.26 L927.77,608.50 L928.06,609.74 L928.35,610.99 L928.64,612.23 L928.92,613.49 L929.21,614.74 L929.50,616.00 L929.79,617.26 L930.07,618.52 L930.36,619.79 L930.65,621.06 L930.94,622.33 L931.23,623.61 L931.51,624.89 L931.80,626.17 L932.09,627.46 L932.38,628.74 L932.66,630.04 L932.95,631.33 L933.24,632.63 L933.53,633.93 L933.82,635.23 L934.10,636.54 L934.39,637.85 L934.68,639.16 L934.97,640.48 L935.25,641.80 L935.54,643.12 L935.83,644.45 L936.12,645.78 L936.41,647.11 L936.69,648.44 L936.98,649.78 L937.27,651.12 L937.56,652.46 L937.84,653.81 L938.13,655.16 L938.42,656.52 L938.71,657.87 L939.00,659.23 L939.28,660.59 L939.57,661.96 L939.86,663.33 L940.15,664.70 L940.43,666.07 L940.72,667.45 L941.01,668.83 L941.30,670.22 L941.59,671.60 L941.87,673.00 L942.16,674.39 L942.45,675.78 L942.74,677.18 L943.02,678.59 L943.31,679.99 L943.60,681.40" stroke-dasharray="8.2 30.74"/>
<path d="M225.80,89.52 L227.72,89.54 L229.64,89.56 L231.56,89.58 L233.48,89.61 L235.40,89.63 L237.32,89.66 L239.24,89.69 L241.16,89.72 L243.08,89.75 L245.00,89.78 L246.92,89.81 L248.84,89.85 L250.77,89.88 L252.69,89.92 L254.61,89.96 L256.53,90.00 L258.45,90.04 L260.37,90.08 L262.29,90.13 L264.21,90.17 L266.13,90.22 L268.05,90.27 L269.97,90.31 L271.89,90.36 L273.81,90.42 L275.73,90.47 L277.65,90.52 L279.57,90.57 L281.49,90.63 L283.41,90.69 L285.33,90.75 L287.25,90.80 L289.17,90.86 L291.09,90.93 L293.01,90.99 L294.93,91.05 L296.85,91.12 L298.78,91.18 L300.70,91.26 L302.62,91.34 L304.54,91.43 L306.45,91.51 L308.37,91.60 L310.29,91.69 L312.21,91.78 L314.13,91.87 L316.05,91.96 L317.97,92.06 L319.89,92.15 L321.81,92.25 L323.73,92.35 L325.65,92.45 L327.57,92.55 L329.49,92.65 L331.41,92.75 L333.33,92.85 L335.25,92.96 L337.17,93.07 L339.09,93.17 L341.01,93.28 L342.93,93.40 L344.85,93.51 L346.77,93.62 L348.69,93.74 L350.60,93.85 L352.52,93.97 L354.44,94.09 L356.36,94.21 L358.28,94.34 L360.20,94.46 L362.12,94.59 L364.04,94.71 L365.96,94.84 L367.88,94.97 L369.80,95.11 L371.71,95.24 L373.63,95.37 L375.55,95.51 L377.47,95.65 L379.39,95.79 L381.31,95.93 L383.23,96.08 L385.15,96.23 L387.07,96.37 L388.98,96.52 L390.90,96.68 L392.82,96.83 L394.74,96.99 L396.66,97.14 L398.58,97.30 L400.49,97.47 L402.41,97.63 L404.33,97.80 L406.25,97.96 L408.17,98.13 L410.09,98.31 L412.00,98.48 L413.92,98.66 L415.84,98.84 L417.76,99.02 L419.68,99.21 L421.59,99.39 L423.51,99.58 L425.43,99.77 L427.35,99.97 L429.26,100.16 L431.18,100.36 L433.10,100.57 L435.02,100.77 L436.93,100.98 L438.85,101.19 L440.77,101.40 L442.69,101.62 L444.60,101.84 L446.52,102.06 L448.44,102.28 L450.35,102.51 L452.27,102.74 L454.19,102.97 L456.10,103.21 L458.02,103.45 L459.94,103.69 L461.85,103.94 L463.77,104.19 L465.69,104.44 L467.60,104.70 L469.52,104.96 L471.43,105.22 L473.35,105.49 L475.27,105.76 L477.18,106.03 L479.10,106.31 L481.01,106.59 L482.93,106.88 L484.84,107.17 L486.76,107.46 L488.67,107.76 L490.59,108.06 L492.50,108.37 L494.42,108.67 L496.33,108.99 L498.25,109.31 L500.16,109.63 L502.08,109.95 L503.99,110.29 L505.91,110.62 L507.82,110.96 L509.73,111.30 L511.65,111.65 L513.56,112.01 L515.47,112.36 L517.39,112.73 L519.30,113.10 L521.21,113.47 L523.13,113.85 L525.04,114.23 L526.95,114.62 L528.87,115.01 L530.78,115.41 L532.69,115.81 L534.60,116.22 L536.52,116.64 L538.43,117.06 L540.34,117.48 L542.25,117.91 L544.16,118.35 L546.07,118.79 L547.99,119.24 L549.90,119.69 L551.81,120.14 L553.73,120.59 L555.64,121.04 L557.56,121.51 L559.47,121.98 L561.38,122.45 L563.30,122.94 L565.21,123.42 L567.13,123.92 L569.04,124.42 L570.95,124.93 L572.87,125.45 L574.78,125.97 L576.70,126.50 L578.61,127.04 L580.52,127.58 L582.44,128.13 L584.35,128.69 L586.26,129.26 L588.18,129.83 L590.09,130.42 L592.00,131.01 L593.92,131.61 L595.83,132.21 L597.74,132.83 L599.65,133.45 L601.57,134.08 L603.48,134.72 L605.39,135.37 L607.30,136.03 L609.22,136.70 L611.13,137.38 L613.04,138.06 L614.95,138.76 L616.86,139.47 L618.78,140.18 L620.69,140.91 L622.60,141.64 L624.51,142.39 L626.42,143.15 L628.33,143.91 L630.25,144.69 L632.16,145.48 L634.07,146.28 L635.98,147.10 L637.89,147.92 L639.80,148.75 L641.71,149.60 L643.62,150.46 L645.53,151.33 L647.44,152.22 L649.35,153.12 L651.26,154.03 L653.17,154.95 L655.08,155.88 L656.99,156.83 L658.90,157.80 L660.81,158.78 L662.72,159.77 L664.63,160.77 L666.54,161.79 L668.45,162.83 L670.36,163.88 L672.27,164.95 L674.18,166.03 L676.09,167.12 L678.00,168.24 L679.91,169.37 L681.82,170.51 L683.73,171.67 L685.64,172.85 L687.55,174.05 L689.46,175.26 L691.37,176.49 L693.28,177.74 L695.19,179.01 L697.10,180.30 L699.01,181.60 L700.91,182.92 L702.82,184.27 L704.73,185.63 L706.64,187.01 L708.55,188.41 L710.46,189.83 L712.37,191.28 L714.28,192.74 L716.19,194.23 L718.10,195.73 L720.01,197.26 L721.92,198.81 L723.83,200.38 L725.74,201.98 L727.65,203.60 L729.56,205.24 L731.47,206.90 L733.38,208.59 L735.29,210.30 L737.20,212.04 L739.11,213.80 L741.02,215.59 L742.93,217.40 L744.84,219.24 L746.75,221.10 L748.66,222.99 L750.57,224.91 L752.48,226.86 L754.39,228.83 L756.30,230.83 L758.21,232.86 L760.12,234.91 L762.03,237.00 L763.94,239.11 L765.86,241.26 L767.77,243.43 L769.68,245.63 L771.59,247.87 L773.50,250.13 L775.41,252.43 L777.33,254.76 L779.24,257.12 L781.15,259.51 L783.06,261.94 L784.97,264.40 L786.89,266.89 L788.80,269.41 L790.71,271.97 L792.63,274.57 L794.54,277.20 L796.45,279.87 L798.37,282.57 L798.67,283.00 L798.98,283.44 L799.28,283.88 L799.59,284.31 L799.89,284.75 L800.20,285.19 L800.51,285.63 L800.81,286.08 L801.12,286.52 L801.42,286.96 L801.73,287.41 L802.03,287.85 L802.34,288.30 L802.65,288.75 L802.95,289.19 L803.26,289.64 L803.56,290.09 L803.87,290.55 L804.18,291.00 L804.48,291.45 L804.79,291.91 L805.09,292.36 L805.40,292.82 L805.71,293.27 L806.01,293.73 L806.32,294.19 L806.62,294.65 L806.93,295.11 L807.24,295.57 L807.54,296.04 L807.85,296.50 L808.15,296.97 L808.46,297.43 L808.77,297.90 L809.07,298.37 L809.38,298.84 L809.68,299.31 L809.99,299.78 L810.29,300.25 L810.60,300.72 L810.91,301.20 L811.21,301.67 L811.52,302.15 L811.82,302.62 L812.13,303.10 L812.44,303.58 L812.74,304.06 L813.05,304.54 L813.35,305.03 L813.66,305.51 L813.97,305.99 L814.27,306.48 L814.58,306.97 L814.88,307.45 L815.19,307.94 L815.50,308.43 L815.80,308.92 L816.11,309.42 L816.41,309.91 L816.72,310.41 L817.03,310.90 L817.33,311.40 L817.64,311.90 L817.94,312.40 L818.25,312.90 L818.55,313.40 L818.86,313.90 L819.17,314.40 L819.47,314.91 L819.78,315.42 L820.08,315.92 L820.39,316.43 L820.70,316.94 L821.00,317.45 L821.31,317.97 L821.61,318.48 L821.92,319.00 L822.23,319.51 L822.53,320.03 L822.84,320.55 L823.14,321.07 L823.45,321.59 L823.76,322.11 L824.06,322.64 L824.37,323.16 L824.67,323.69 L824.98,324.22 L825.28,324.75 L825.59,325.28 L825.90,325.81 L826.20,326.35 L826.51,326.88 L826.81,327.42 L827.12,327.96 L827.43,328.50 L827.73,329.04 L828.04,329.58 L828.34,330.13 L828.65,330.67 L828.96,331.22 L829.26,331.77 L829.57,332.32 L829.87,332.87 L830.18,333.42 L830.48,333.98 L830.79,334.53 L831.10,335.09 L831.40,335.65 L831.71,336.21 L832.01,336.77 L832.32,337.34 L832.63,337.90 L832.93,338.47 L833.24,339.04 L833.54,339.61 L833.85,340.18 L834.16,340.75 L834.46,341.33 L834.77,341.90 L835.07,342.48 L835.38,343.06 L835.69,343.64 L835.99,344.23 L836.30,344.81 L836.60,345.40 L836.91,345.99 L837.21,346.58 L837.52,347.17 L837.83,347.76 L838.13,348.36 L838.44,348.95 L838.74,349.55 L839.05,350.15 L839.36,350.76 L839.66,351.36 L839.97,351.96 L840.27,352.57 L840.58,353.18 L840.89,353.79 L841.19,354.40 L841.50,355.02 L841.80,355.63 L842.11,356.25 L842.42,356.87 L842.72,357.49 L843.03,358.12 L843.33,358.74 L843.64,359.37 L843.95,360.00 L844.25,360.63 L844.56,361.26 L844.86,361.89 L845.17,362.53 L845.48,363.17 L845.78,363.81 L846.09,364.45 L846.39,365.09 L846.70,365.74 L847.01,366.39 L847.31,367.03 L847.62,367.69 L847.93,368.34 L848.23,368.99 L848.54,369.65 L848.84,370.31 L849.15,370.97 L849.46,371.63 L849.76,372.29 L850.07,372.96 L850.37,373.63 L850.68,374.30 L850.99,374.97 L851.29,375.64 L851.60,376.32 L851.90,376.99 L852.21,377.67 L852.52,378.35 L852.82,379.04 L853.13,379.72 L853.44,380.40 L853.76,381.09 L854.07,381.78 L854.39,382.46 L854.71,383.15 L855.02,383.85 L855.34,384.54 L855.65,385.24 L855.97,385.93 L856.28,386.63 L856.60,387.34 L856.92,388.04 L857.23,388.75 L857.55,389.45 L857.86,390.16 L858.18,390.88 L858.49,391.59 L858.81,392.31 L859.13,393.02 L859.44,393.74 L859.76,394.47 L860.07,395.19 L860.39,395.91 L860.70,396.64 L861.02,397.37 L861.34,398.10 L861.65,398.84 L861.97,399.57 L862.28,400.31 L862.60,401.05 L862.91,401.79 L863.23,402.53 L863.55,403.28 L863.86,404.03 L864.18,404.78 L864.49,405.53 L864.81,406.28 L865.13,407.04 L865.44,407.80 L865.76,408.56 L866.07,409.32 L866.39,410.08 L866.71,410.85 L867.02,411.61 L867.34,412.38 L867.65,413.16 L867.97,413.93 L868.29,414.71 L868.60,415.49 L868.92,416.27 L869.23,417.05 L869.55,417.83 L869.87,418.62 L870.18,419.41 L870.50,420.20 L870.81,420.99 L871.13,421.79 L871.45,422.58 L871.76,423.38 L872.08,424.18 L872.40,424.99 L872.71,425.79 L873.03,426.60 L873.34,427.41 L873.66,428.22 L873.98,429.04 L874.29,429.86 L874.61,430.67 L874.93,431.50 L875.24,432.32 L875.56,433.14 L875.87,433.97 L876.19,434.80 L876.51,435.63 L876.82,436.47 L877.14,437.30 L877.46,438.14 L877.77,438.99 L878.09,439.83 L878.40,440.67 L878.72,441.52 L879.04,442.37 L879.35,443.23 L879.67,444.08 L879.99,444.94 L880.30,445.80 L880.62,446.66 L880.93,447.52 L881.25,448.39 L881.57,449.26 L881.88,450.13 L882.20,451.01 L882.52,451.88 L882.83,452.76 L883.15,453.64 L883.47,454.53 L883.78,455.41 L884.10,456.30 L884.41,457.19 L884.73,458.08 L885.05,458.98 L885.36,459.88 L885.68,460.78 L886.00,461.68 L886.31,462.59 L886.63,463.50 L886.95,464.41 L887.26,465.32 L887.58,466.24 L887.90,467.16 L888.21,468.08 L888.53,469.00 L888.85,469.93 L889.16,470.86 L889.48,471.79 L889.80,472.73 L890.11,473.66 L890.43,474.60 L890.74,475.55 L891.06,476.49 L891.38,477.44 L891.69,478.39 L892.01,479.34 L892.33,480.30 L892.64,481.26 L892.96,482.22 L893.28,483.18 L893.59,484.15 L893.91,485.12 L894.23,486.09 L894.54,487.07 L894.86,488.05 L895.18,489.03 L895.49,490.01 L895.81,491.00 L896.13,491.99 L896.44,492.98 L896.76,493.97 L897.08,494.97 L897.39,495.97 L897.71,496.98 L898.03,497.98 L898.34,498.99 L898.66,500.01 L898.98,501.02 L899.29,502.04 L899.61,503.06 L899.93,504.09 L900.24,505.11 L900.56,506.14 L900.88,507.18 L901.19,508.21 L901.51,509.25 L901.83,510.30 L902.14,511.34 L902.46,512.39 L902.78,513.44 L903.09,514.50 L903.41,515.55 L903.73,516.61 L904.04,517.68 L904.36,518.75 L904.68,519.82 L905.00,520.89 L905.31,521.97 L905.63,523.04 L905.95,524.13 L906.26,525.21 L906.58,526.30 L906.90,527.40 L907.21,528.49 L907.53,529.59 L907.85,530.69 L908.16,531.80 L908.48,532.90 L908.80,534.02 L909.11,535.13 L909.43,536.25 L909.75,537.37 L910.06,538.49 L910.38,539.62 L910.70,540.75 L911.01,541.89 L911.33,543.03 L911.65,544.17 L911.97,545.31 L912.28,546.46 L912.60,547.61 L912.92,548.76 L913.23,549.92 L913.55,551.08 L913.87,552.25 L914.18,553.41 L914.50,554.58 L914.82,555.76 L915.13,556.94 L915.44,558.12 L915.74,559.31 L916.05,560.50 L916.36,561.69 L916.67,562.89 L916.97,564.09 L917.28,565.29 L917.59,566.50 L917.89,567.71 L918.20,568.92 L918.51,570.14 L918.81,571.36 L919.12,572.59 L919.43,573.81 L919.74,575.04 L920.04,576.28 L920.35,577.52 L920.66,578.76 L920.96,580.00 L921.27,581.25 L921.58,582.50 L921.88,583.76 L922.19,585.02 L922.50,586.28 L922.81,587.54 L923.11,588.81 L923.42,590.08 L923.73,591.36 L924.03,592.64 L924.34,593.92 L924.65,595.21 L924.95,596.50 L925.26,597.79 L925.57,599.09 L925.88,600.39 L926.18,601.69 L926.49,603.00 L926.80,604.31 L927.10,605.62 L927.41,606.94 L927.72,608.26 L928.02,609.59 L928.33,610.92 L928.64,612.25 L928.95,613.58 L929.25,614.92 L929.56,616.26 L929.87,617.61 L930.17,618.96 L930.48,620.31 L930.79,621.67 L931.09,623.03 L931.40,624.39 L931.71,625.76 L932.02,627.13 L932.32,628.50 L932.63,629.88 L932.94,631.26 L933.24,632.65 L933.55,634.03 L933.86,635.43 L934.17,636.82 L934.47,638.22 L934.78,639.62 L935.09,641.03 L935.39,642.44 L935.70,643.85 L936.01,645.26 L936.31,646.68 L936.62,648.11 L936.93,649.53 L937.24,650.96 L937.54,652.40 L937.85,653.83 L938.16,655.28 L938.46,656.72 L938.77,658.17 L939.08,659.62 L939.38,661.07 L939.69,662.53 L940.00,663.99 L940.31,665.46 L940.61,666.93 L940.92,668.40 L941.23,669.87 L941.53,671.35 L941.84,672.84 L942.15,674.32 L942.45,675.81 L942.76,677.30 L943.07,678.80 L943.38,680.30 L943.68,681.80 L943.99,683.31 L944.30,684.82 L944.60,686.34 L944.91,687.85 L945.22,689.37 L945.52,690.90 L945.83,692.42 L946.14,693.96 L946.45,695.49 L946.75,697.03 L947.06,698.57 L947.37,700.11 L947.67,701.66 L947.98,703.21 L948.29,704.77 L948.59,706.33 L948.90,707.89 L949.21,709.45 L949.52,711.02 L949.82,712.59 L950.13,714.17 L950.44,715.75 L950.74,717.33 L951.05,718.91 L951.36,720.50 L951.66,722.09 L951.97,723.69 L952.28,725.29 L952.59,726.89 L952.89,728.50 L953.20,730.10" stroke-dasharray="2.7 30.9"/>
</g>
<line x1="943.17" y1="675.98" x2="944.72" y2="684.34" stroke="#000" stroke-width="4.8"/>
<path d="M950.60,716.10 L933.35,680.34 L944.36,682.37 L953.90,676.54 Z" fill="#000"/>
<path d="M959.40,764.10 L942.15,728.34 L953.16,730.37 L962.70,724.54 Z" fill="#000"/>
</g>
<g stroke="#666666" stroke-width="1.15" fill="none">
<rect x="197.9" y="52.25" width="780.65" height="780.75"/>
<line x1="197.90" y1="833.0" x2="197.90" y2="823.3"/>
<line x1="197.90" y1="52.25" x2="197.90" y2="61.95"/>
<line x1="236.55" y1="833.0" x2="236.55" y2="827.2"/>
<line x1="236.55" y1="52.25" x2="236.55" y2="58.05"/>
<line x1="275.19" y1="833.0" x2="275.19" y2="827.2"/>
<line x1="275.19" y1="52.25" x2="275.19" y2="58.05"/>
<line x1="313.83" y1="833.0" x2="313.83" y2="827.2"/>
<line x1="313.83" y1="52.25" x2="313.83" y2="58.05"/>
<line x1="352.48" y1="833.0" x2="352.48" y2="823.3"/>
<line x1="352.48" y1="52.25" x2="352.48" y2="61.95"/>
<line x1="391.12" y1="833.0" x2="391.12" y2="827.2"/>
<line x1="391.12" y1="52.25" x2="391.12" y2="58.05"/>
<line x1="429.77" y1="833.0" x2="429.77" y2="827.2"/>
<line x1="429.77" y1="52.25" x2="429.77" y2="58.05"/>
<line x1="468.41" y1="833.0" x2="468.41" y2="827.2"/>
<line x1="468.41" y1="52.25" x2="468.41" y2="58.05"/>
<line x1="507.06" y1="833.0" x2="507.06" y2="823.3"/>
<line x1="507.06" y1="52.25" x2="507.06" y2="61.95"/>
<line x1="545.70" y1="833.0" x2="545.70" y2="827.2"/>
<line x1="545.70" y1="52.25" x2="545.70" y2="58.05"/>
<line x1="584.35" y1="833.0" x2="584.35" y2="827.2"/>
<line x1="584.35" y1="52.25" x2="584.35" y2="58.05"/>
<line x1="623.00" y1="833.0" x2="623.00" y2="827.2"/>
<line x1="623.00" y1="52.25" x2="623.00" y2="58.05"/>
<line x1="661.64" y1="833.0" x2="661.64" y2="823.3"/>
<line x1="661.64" y1="52.25" x2="661.64" y2="61.95"/>
<line x1="700.28" y1="833.0" x2="700.28" y2="827.2"/>
<line x1="700.28" y1="52.25" x2="700.28" y2="58.05"/>
<line x1="738.93" y1="833.0" x2="738.93" y2="827.2"/>
<line x1="738.93" y1="52.25" x2="738.93" y2="58.05"/>
<line x1="777.57" y1="833.0" x2="777.57" y2="827.2"/>
<line x1="777.57" y1="52.25" x2="777.57" y2="58.05"/>
<line x1="816.22" y1="833.0" x2="816.22" y2="823.3"/>
<line x1="816.22" y1="52.25" x2="816.22" y2="61.95"/>
<line x1="854.86" y1="833.0" x2="854.86" y2="827.2"/>
<line x1="854.86" y1="52.25" x2="854.86" y2="58.05"/>
<line x1="893.51" y1="833.0" x2="893.51" y2="827.2"/>
<line x1="893.51" y1="52.25" x2="893.51" y2="58.05"/>
<line x1="932.15" y1="833.0" x2="932.15" y2="827.2"/>
<line x1="932.15" y1="52.25" x2="932.15" y2="58.05"/>
<line x1="970.80" y1="833.0" x2="970.80" y2="823.3"/>
<line x1="970.80" y1="52.25" x2="970.80" y2="61.95"/>
<line x1="197.9" y1="89.43" x2="207.6" y2="89.43"/>
<line x1="978.55" y1="89.43" x2="968.8499999999999" y2="89.43"/>
<line x1="197.9" y1="126.62" x2="203.70000000000002" y2="126.62"/>
<line x1="978.55" y1="126.62" x2="972.75" y2="126.62"/>
<line x1="197.9" y1="163.82" x2="203.70000000000002" y2="163.82"/>
<line x1="978.55" y1="163.82" x2="972.75" y2="163.82"/>
<line x1="197.9" y1="201.01" x2="203.70000000000002" y2="201.01"/>
<line x1="978.55" y1="201.01" x2="972.75" y2="201.01"/>
<line x1="197.9" y1="238.21" x2="203.70000000000002" y2="238.21"/>
<line x1="978.55" y1="238.21" x2="972.75" y2="238.21"/>
<line x1="197.9" y1="275.40" x2="207.6" y2="275.40"/>
<line x1="978.55" y1="275.40" x2="968.8499999999999" y2="275.40"/>
<line x1="197.9" y1="312.60" x2="203.70000000000002" y2="312.60"/>
<line x1="978.55" y1="312.60" x2="972.75" y2="312.60"/>
<line x1="197.9" y1="349.80" x2="203.70000000000002" y2="349.80"/>
<line x1="978.55" y1="349.80" x2="972.75" y2="349.80"/>
<line x1="197.9" y1="386.99" x2="203.70000000000002" y2="386.99"/>
<line x1="978.55" y1="386.99" x2="972.75" y2="386.99"/>
<line x1="197.9" y1="424.19" x2="203.70000000000002" y2="424.19"/>
<line x1="978.55" y1="424.19" x2="972.75" y2="424.19"/>
<line x1="197.9" y1="461.38" x2="207.6" y2="461.38"/>
<line x1="978.55" y1="461.38" x2="968.8499999999999" y2="461.38"/>
<line x1="197.9" y1="498.57" x2="203.70000000000002" y2="498.57"/>
<line x1="978.55" y1="498.57" x2="972.75" y2="498.57"/>
<line x1="197.9" y1="535.77" x2="203.70000000000002" y2="535.77"/>
<line x1="978.55" y1="535.77" x2="972.75" y2="535.77"/>
<line x1="197.9" y1="572.97" x2="203.70000000000002" y2="572.97"/>
<line x1="978.55" y1="572.97" x2="972.75" y2="572.97"/>
<line x1="197.9" y1="610.16" x2="203.70000000000002" y2="610.16"/>
<line x1="978.55" y1="610.16" x2="972.75" y2="610.16"/>
<line x1="197.9" y1="647.36" x2="207.6" y2="647.36"/>
<line x1="978.55" y1="647.36" x2="968.8499999999999" y2="647.36"/>
<line x1="197.9" y1="684.55" x2="203.70000000000002" y2="684.55"/>
<line x1="978.55" y1="684.55" x2="972.75" y2="684.55"/>
<line x1="197.9" y1="721.75" x2="203.70000000000002" y2="721.75"/>
<line x1="978.55" y1="721.75" x2="972.75" y2="721.75"/>
<line x1="197.9" y1="758.94" x2="203.70000000000002" y2="758.94"/>
<line x1="978.55" y1="758.94" x2="972.75" y2="758.94"/>
<line x1="197.9" y1="796.13" x2="203.70000000000002" y2="796.13"/>
<line x1="978.55" y1="796.13" x2="972.75" y2="796.13"/>
<line x1="197.9" y1="833.00" x2="207.6" y2="833.00"/>
<line x1="978.55" y1="833.00" x2="968.8499999999999" y2="833.00"/>
</g>
<text fill="#666666"><tspan x="122.88" y="102.13" font-size="36">0</tspan><tspan x="142.46" y="102.13" font-size="36">.</tspan><tspan x="152.25" y="102.13" font-size="36">0</tspan><tspan x="171.58" y="102.13" font-size="36">0</tspan></text>
<text fill="#666666"><tspan x="101.45" y="290.60" font-size="33.7" stroke="#666666" stroke-width="0.55">−</tspan><tspan x="122.88" y="288.10" font-size="36">0</tspan><tspan x="142.46" y="288.10" font-size="36">.</tspan><tspan x="152.25" y="288.10" font-size="36">0</tspan><tspan x="171.58" y="288.10" font-size="36">5</tspan></text>
<text fill="#666666"><tspan x="101.45" y="476.58" font-size="33.7" stroke="#666666" stroke-width="0.55">−</tspan><tspan x="122.88" y="474.08" font-size="36">0</tspan><tspan x="142.46" y="474.08" font-size="36">.</tspan><tspan x="171.58" y="474.08" font-size="36">0</tspan></text><path d="M166.25,449.08 L162.38,449.08 Q160.65,453.48 154.30,455.98 L154.30,460.38 Q158.05,458.78 160.63,455.68 L160.63,474.08 L166.25,474.08 Z" fill="#666666"/>
<text fill="#666666"><tspan x="101.45" y="662.56" font-size="33.7" stroke="#666666" stroke-width="0.55">−</tspan><tspan x="122.88" y="660.06" font-size="36">0</tspan><tspan x="142.46" y="660.06" font-size="36">.</tspan><tspan x="171.58" y="660.06" font-size="36">5</tspan></text><path d="M166.25,635.06 L162.38,635.06 Q160.65,639.46 154.30,641.96 L154.30,646.36 Q158.05,644.76 160.63,641.66 L160.63,660.06 L166.25,660.06 Z" fill="#666666"/>
<text fill="#666666"><tspan x="101.45" y="848.53" font-size="33.7" stroke="#666666" stroke-width="0.55">−</tspan><tspan x="122.88" y="846.03" font-size="36">0</tspan><tspan x="142.46" y="846.03" font-size="36">.</tspan><tspan x="152.25" y="846.03" font-size="36">2</tspan><tspan x="171.58" y="846.03" font-size="36">0</tspan></text>
<text fill="#666666"><tspan x="193.20" y="872.10" font-size="36">.</tspan><tspan x="202.50" y="872.10" font-size="36">0</tspan></text><path d="M187.90,847.10 L184.03,847.10 Q182.30,851.50 175.95,854.00 L175.95,858.40 Q179.70,856.80 182.28,853.70 L182.28,872.10 L187.90,872.10 Z" fill="#666666"/>
<text fill="#666666"><tspan x="347.78" y="872.10" font-size="36">.</tspan><tspan x="357.08" y="872.10" font-size="36">2</tspan></text><path d="M342.48,847.10 L338.61,847.10 Q336.88,851.50 330.53,854.00 L330.53,858.40 Q334.28,856.80 336.86,853.70 L336.86,872.10 L342.48,872.10 Z" fill="#666666"/>
<text fill="#666666"><tspan x="502.36" y="872.10" font-size="36">.</tspan><tspan x="511.66" y="872.10" font-size="36">4</tspan></text><path d="M497.06,847.10 L493.19,847.10 Q491.46,851.50 485.11,854.00 L485.11,858.40 Q488.86,856.80 491.44,853.70 L491.44,872.10 L497.06,872.10 Z" fill="#666666"/>
<text fill="#666666"><tspan x="656.94" y="872.10" font-size="36">.</tspan><tspan x="666.24" y="872.10" font-size="36">6</tspan></text><path d="M651.64,847.10 L647.77,847.10 Q646.04,851.50 639.69,854.00 L639.69,858.40 Q643.44,856.80 646.02,853.70 L646.02,872.10 L651.64,872.10 Z" fill="#666666"/>
<text fill="#666666"><tspan x="811.52" y="872.10" font-size="36">.</tspan><tspan x="820.82" y="872.10" font-size="36">8</tspan></text><path d="M806.22,847.10 L802.35,847.10 Q800.62,851.50 794.27,854.00 L794.27,858.40 Q798.02,856.80 800.60,853.70 L800.60,872.10 L806.22,872.10 Z" fill="#666666"/>
<text fill="#666666"><tspan x="946.80" y="872.10" font-size="36">2</tspan><tspan x="966.10" y="872.10" font-size="36">.</tspan><tspan x="975.40" y="872.10" font-size="36">0</tspan></text>
<text fill="#000"><tspan x="-0.95" y="458.20" font-size="44.7">m</tspan><tspan x="53.75" y="458.20" font-size="44.7" font-style="italic">r</tspan></text>
<text fill="#000" font-size="42" transform="translate(38.85,458.2) scale(0.886,1)">(</text>
<text fill="#000" font-size="42" transform="translate(74.76,458.2) scale(0.886,1)">)</text>
<text fill="#000"><tspan x="579.95" y="932.90" font-size="44.5">r</tspan></text>
<g fill="none" stroke-width="4.8">
<line x1="239.2" y1="354.4" x2="327.4" y2="354.4" stroke="#ff0000"/>
<line x1="241.4" y1="422.1" x2="325.3" y2="422.1" stroke="#ff8000" stroke-dasharray="8 3.25"/>
<line x1="241.4" y1="489.8" x2="325.3" y2="489.8" stroke="#ff8000" stroke-dasharray="2.6 3.35"/>
<line x1="241.4" y1="557.5" x2="325.3" y2="557.5" stroke="#0000ff" stroke-dasharray="8 14.6"/>
<line x1="241.4" y1="625.2" x2="325.3" y2="625.2" stroke="#0000ff" stroke-dasharray="2.6 14.6"/>
<line x1="241.4" y1="692.9" x2="325.3" y2="692.9" stroke="#000" stroke-dasharray="8 29.6"/>
<line x1="241.4" y1="760.6" x2="325.3" y2="760.6" stroke="#000" stroke-dasharray="2.6 29.7"/>
</g>
<text fill="#000"><tspan x="346.50" y="365.70" font-size="33.2" font-style="italic" stroke="#000" stroke-width="0.55">ϵ</tspan><tspan x="362.55" y="367.60" font-size="33.7" stroke="#000" stroke-width="0.55">=</tspan><tspan x="381.98" y="365.70" font-size="36">0</tspan></text>
<text fill="#000"><tspan x="346.50" y="433.40" font-size="33.2" font-style="italic" stroke="#000" stroke-width="0.55">ϵ</tspan><tspan x="362.55" y="435.30" font-size="33.7" stroke="#000" stroke-width="0.55">=</tspan><tspan x="401.23" y="433.40" font-size="36">0</tspan><tspan x="421.00" y="420.40" font-size="21.7" stroke="#000" stroke-width="0.3">−</tspan><tspan x="433.80" y="419.00" font-size="26">7</tspan></text><path d="M396.53,408.40 L392.66,408.40 Q390.93,412.80 384.58,415.30 L384.58,419.70 Q388.33,418.10 390.91,415.00 L390.91,433.40 L396.53,433.40 Z" fill="#000"/>
<text fill="#000"><tspan x="346.50" y="501.10" font-size="33.2" font-style="italic" stroke="#000" stroke-width="0.55">ϵ</tspan><tspan x="362.55" y="503.00" font-size="33.7" stroke="#000" stroke-width="0.55">=</tspan><tspan x="381.90" y="503.80" font-size="33.7" stroke="#000" stroke-width="0.55">−</tspan><tspan x="419.83" y="501.10" font-size="36">0</tspan><tspan x="439.60" y="488.10" font-size="21.7" stroke="#000" stroke-width="0.3">−</tspan><tspan x="452.50" y="486.70" font-size="26">7</tspan></text><path d="M415.73,476.10 L411.86,476.10 Q410.13,480.50 403.78,483.00 L403.78,487.40 Q407.53,485.80 410.11,482.70 L410.11,501.10 L415.73,501.10 Z" fill="#000"/>
<text fill="#000"><tspan x="346.50" y="568.80" font-size="33.2" font-style="italic" stroke="#000" stroke-width="0.55">ϵ</tspan><tspan x="362.55" y="570.70" font-size="33.7" stroke="#000" stroke-width="0.55">=</tspan><tspan x="401.23" y="568.80" font-size="36">0</tspan><tspan x="421.00" y="555.80" font-size="21.7" stroke="#000" stroke-width="0.3">−</tspan><tspan x="433.80" y="554.40" font-size="26">6</tspan></text><path d="M396.53,543.80 L392.66,543.80 Q390.93,548.20 384.58,550.70 L384.58,555.10 Q388.33,553.50 390.91,550.40 L390.91,568.80 L396.53,568.80 Z" fill="#000"/>
<text fill="#000"><tspan x="346.50" y="636.50" font-size="33.2" font-style="italic" stroke="#000" stroke-width="0.55">ϵ</tspan><tspan x="362.55" y="638.40" font-size="33.7" stroke="#000" stroke-width="0.55">=</tspan><tspan x="381.90" y="639.20" font-size="33.7" stroke="#000" stroke-width="0.55">−</tspan><tspan x="419.83" y="636.50" font-size="36">0</tspan><tspan x="439.60" y="623.50" font-size="21.7" stroke="#000" stroke-width="0.3">−</tspan><tspan x="452.50" y="622.10" font-size="26">6</tspan></text><path d="M415.73,611.50 L411.86,611.50 Q410.13,615.90 403.78,618.40 L403.78,622.80 Q407.53,621.20 410.11,618.10 L410.11,636.50 L415.73,636.50 Z" fill="#000"/>
<text fill="#000"><tspan x="346.50" y="704.20" font-size="33.2" font-style="italic" stroke="#000" stroke-width="0.55">ϵ</tspan><tspan x="362.55" y="706.10" font-size="33.7" stroke="#000" stroke-width="0.55">=</tspan><tspan x="401.23" y="704.20" font-size="36">0</tspan><tspan x="421.00" y="691.20" font-size="21.7" stroke="#000" stroke-width="0.3">−</tspan><tspan x="433.80" y="689.80" font-size="26">5</tspan></text><path d="M396.53,679.20 L392.66,679.20 Q390.93,683.60 384.58,686.10 L384.58,690.50 Q388.33,688.90 390.91,685.80 L390.91,704.20 L396.53,704.20 Z" fill="#000"/>
<text fill="#000"><tspan x="346.50" y="771.90" font-size="33.2" font-style="italic" stroke="#000" stroke-width="0.55">ϵ</tspan><tspan x="362.55" y="773.80" font-size="33.7" stroke="#000" stroke-width="0.55">=</tspan><tspan x="381.90" y="774.60" font-size="33.7" stroke="#000" stroke-width="0.55">−</tspan><tspan x="419.83" y="771.90" font-size="36">0</tspan><tspan x="439.60" y="758.90" font-size="21.7" stroke="#000" stroke-width="0.3">−</tspan><tspan x="452.50" y="757.50" font-size="26">5</tspan></text><path d="M415.73,746.90 L411.86,746.90 Q410.13,751.30 403.78,753.80 L403.78,758.20 Q407.53,756.60 410.11,753.50 L410.11,771.90 L415.73,771.90 Z" fill="#000"/>
</svg></body></html>
